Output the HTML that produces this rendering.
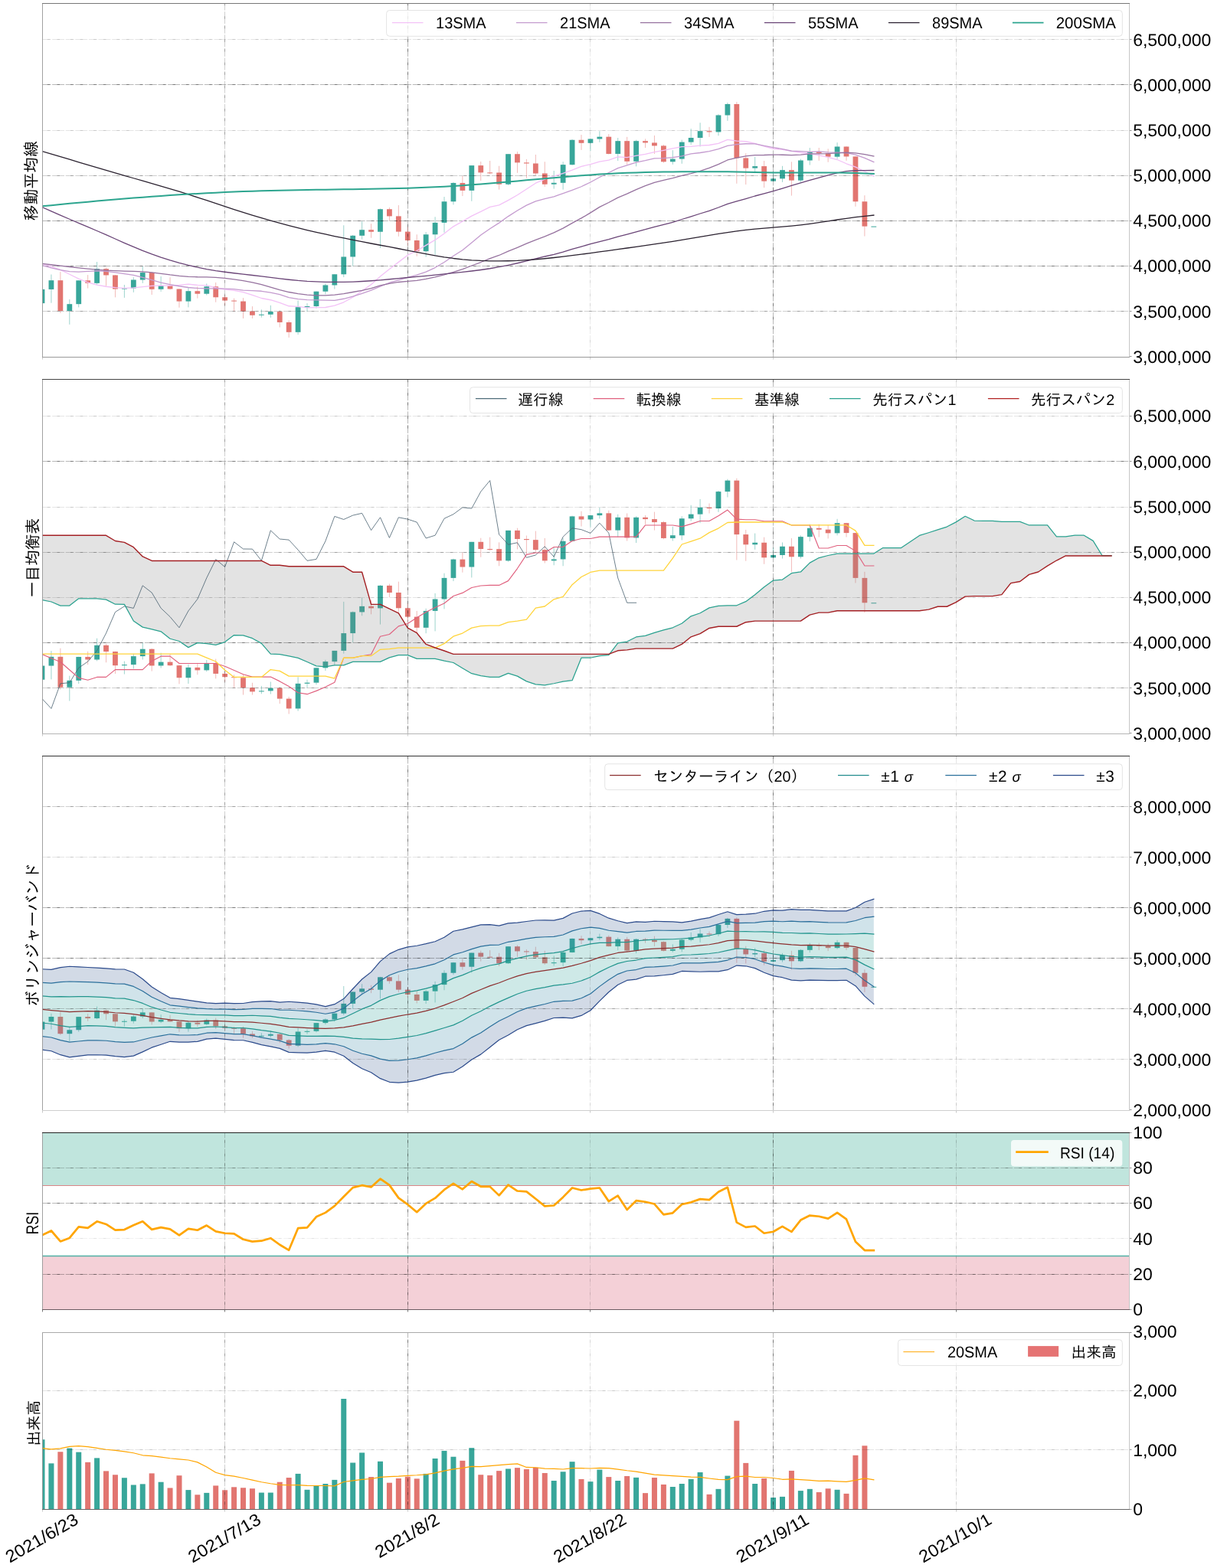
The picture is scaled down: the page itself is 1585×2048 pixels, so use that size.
<!DOCTYPE html><html lang="ja"><head><meta charset="utf-8"><title>移動平均線・一目均衡表・ボリンジャーバンド・RSI・出来高</title>
<style>html,body{margin:0;padding:0;background:#fff}svg{display:block}text{font-family:"Liberation Sans","IPAGothic","Noto Sans CJK JP",sans-serif;fill:#000;text-rendering:geometricPrecision}.grid line{stroke:#000;stroke-width:1;stroke-dasharray:10.9 1.7 15.9 1.7}.gb line{stroke-dasharray:3.5 9.2 3.5 14;stroke-dashoffset:-6.3}.frame{fill:none;stroke:#7f7f7f;stroke-width:1}.tick line{stroke:#999;stroke-width:1}.xt line{stroke:inherit}.xt{stroke:#c8c8c8}.tl text,.xl{font-size:22.5px}.lg{font-size:19.7px}.lgl{font-size:20.8px}.yl{font-size:20.8px}.yl2{font-size:20.4px}.cd line{stroke-width:.7;stroke-opacity:.7}</style></head><body>
<svg width="1585" height="2048" viewBox="0 0 1585 2048" role="img">
<rect width="1585" height="2048" fill="#fff"/>
<defs>
<clipPath id="c1"><rect x="55.5" y="4.5" width="1419" height="462"/></clipPath>
<clipPath id="c2"><rect x="55.5" y="495.5" width="1419" height="463"/></clipPath>
<clipPath id="c3"><rect x="55.5" y="987.5" width="1419" height="463"/></clipPath>
<clipPath id="c4"><rect x="55.5" y="1479.5" width="1419" height="231"/></clipPath>
<clipPath id="c5"><rect x="55.5" y="1740.5" width="1419" height="231"/></clipPath>
</defs>
<g class="cd" clip-path="url(#c1)"><line x1="55" y1="378.04" x2="55" y2="396.09" stroke="#38a69a"/><rect x="51.6" y="377.92" width="6.8" height="18.17" fill="#38a69a"/><line x1="66.93" y1="358.49" x2="66.93" y2="395.71" stroke="#38a69a"/><rect x="63.53" y="366.18" width="6.8" height="11.74" fill="#38a69a"/><line x1="78.86" y1="355.08" x2="78.86" y2="408.96" stroke="#e27570"/><rect x="75.46" y="366.18" width="6.8" height="39.87" fill="#e27570"/><line x1="90.8" y1="391.04" x2="90.8" y2="423.85" stroke="#38a69a"/><rect x="87.4" y="397.16" width="6.8" height="8.9" fill="#38a69a"/><line x1="102.73" y1="366.18" x2="102.73" y2="401.39" stroke="#38a69a"/><rect x="99.33" y="366.31" width="6.8" height="30.85" fill="#38a69a"/><line x1="114.66" y1="359.12" x2="114.66" y2="376.53" stroke="#e27570"/><rect x="111.26" y="366.31" width="6.8" height="3.53" fill="#e27570"/><line x1="126.59" y1="342.08" x2="126.59" y2="371.74" stroke="#38a69a"/><rect x="123.19" y="351.17" width="6.8" height="18.68" fill="#38a69a"/><line x1="138.52" y1="349.27" x2="138.52" y2="373.63" stroke="#e27570"/><rect x="135.12" y="351.17" width="6.8" height="8.26" fill="#e27570"/><line x1="150.46" y1="359.12" x2="150.46" y2="388.39" stroke="#e27570"/><rect x="147.06" y="359.43" width="6.8" height="18.11" fill="#e27570"/><line x1="162.39" y1="371.99" x2="162.39" y2="388.9" stroke="#38a69a"/><rect x="158.99" y="376.47" width="6.8" height="1.07" fill="#38a69a"/><line x1="174.32" y1="362.15" x2="174.32" y2="381.83" stroke="#38a69a"/><rect x="170.92" y="365.49" width="6.8" height="10.98" fill="#38a69a"/><line x1="186.25" y1="348.01" x2="186.25" y2="369.84" stroke="#38a69a"/><rect x="182.85" y="356.09" width="6.8" height="9.4" fill="#38a69a"/><line x1="198.18" y1="355.33" x2="198.18" y2="384.98" stroke="#e27570"/><rect x="194.78" y="356.09" width="6.8" height="21.7" fill="#e27570"/><line x1="210.12" y1="361.01" x2="210.12" y2="380.82" stroke="#38a69a"/><rect x="206.72" y="373" width="6.8" height="4.79" fill="#38a69a"/><line x1="222.05" y1="362.27" x2="222.05" y2="378.3" stroke="#e27570"/><rect x="218.65" y="373" width="6.8" height="4.48" fill="#e27570"/><line x1="233.98" y1="377.16" x2="233.98" y2="401.77" stroke="#e27570"/><rect x="230.58" y="377.48" width="6.8" height="16.09" fill="#e27570"/><line x1="245.91" y1="376.15" x2="245.91" y2="401.39" stroke="#38a69a"/><rect x="242.51" y="380.19" width="6.8" height="13.38" fill="#38a69a"/><line x1="257.84" y1="374.26" x2="257.84" y2="389.65" stroke="#e27570"/><rect x="254.44" y="380.19" width="6.8" height="3.53" fill="#e27570"/><line x1="269.78" y1="370.47" x2="269.78" y2="385.62" stroke="#38a69a"/><rect x="266.38" y="374.26" width="6.8" height="9.46" fill="#38a69a"/><line x1="281.71" y1="368.96" x2="281.71" y2="394.7" stroke="#e27570"/><rect x="278.31" y="374.26" width="6.8" height="14.01" fill="#e27570"/><line x1="293.64" y1="385.36" x2="293.64" y2="398.86" stroke="#e27570"/><rect x="290.24" y="388.26" width="6.8" height="4.29" fill="#e27570"/><line x1="305.57" y1="389.65" x2="305.57" y2="406.81" stroke="#e27570"/><rect x="302.17" y="392.56" width="6.8" height="1.01" fill="#e27570"/><line x1="317.5" y1="389.15" x2="317.5" y2="415.9" stroke="#e27570"/><rect x="314.1" y="393.56" width="6.8" height="13" fill="#e27570"/><line x1="329.44" y1="400.13" x2="329.44" y2="415.9" stroke="#e27570"/><rect x="326.04" y="406.56" width="6.8" height="5.17" fill="#e27570"/><line x1="341.37" y1="404.29" x2="341.37" y2="414.64" stroke="#38a69a"/><rect x="337.97" y="410.73" width="6.8" height="1.01" fill="#38a69a"/><line x1="353.3" y1="398.86" x2="353.3" y2="414.89" stroke="#38a69a"/><rect x="349.9" y="407.07" width="6.8" height="3.66" fill="#38a69a"/><line x1="365.23" y1="405.55" x2="365.23" y2="427.51" stroke="#e27570"/><rect x="361.83" y="407.07" width="6.8" height="13.88" fill="#e27570"/><line x1="377.16" y1="418.42" x2="377.16" y2="440.88" stroke="#e27570"/><rect x="373.76" y="420.95" width="6.8" height="12.87" fill="#e27570"/><line x1="389.1" y1="392.56" x2="389.1" y2="436.97" stroke="#38a69a"/><rect x="385.7" y="401.2" width="6.8" height="32.62" fill="#38a69a"/><line x1="401.03" y1="396.09" x2="401.03" y2="406.81" stroke="#38a69a"/><rect x="397.63" y="400" width="6.8" height="1.2" fill="#38a69a"/><line x1="412.96" y1="380.57" x2="412.96" y2="402.65" stroke="#38a69a"/><rect x="409.56" y="380.69" width="6.8" height="19.31" fill="#38a69a"/><line x1="424.89" y1="370.22" x2="424.89" y2="384.35" stroke="#38a69a"/><rect x="421.49" y="372.44" width="6.8" height="8.25" fill="#38a69a"/><line x1="436.82" y1="358.26" x2="436.82" y2="377.57" stroke="#38a69a"/><rect x="433.42" y="358.26" width="6.8" height="14.18" fill="#38a69a"/><line x1="448.76" y1="294.29" x2="448.76" y2="362.05" stroke="#38a69a"/><rect x="445.36" y="335.43" width="6.8" height="22.84" fill="#38a69a"/><line x1="460.69" y1="306.91" x2="460.69" y2="347.67" stroke="#38a69a"/><rect x="457.29" y="307.79" width="6.8" height="27.63" fill="#38a69a"/><line x1="472.62" y1="289.24" x2="472.62" y2="312.59" stroke="#38a69a"/><rect x="469.22" y="300.22" width="6.8" height="7.57" fill="#38a69a"/><line x1="484.55" y1="292.15" x2="484.55" y2="310.69" stroke="#e27570"/><rect x="481.15" y="300.22" width="6.8" height="2.52" fill="#e27570"/><line x1="496.48" y1="272.46" x2="496.48" y2="323.94" stroke="#38a69a"/><rect x="493.08" y="273.22" width="6.8" height="29.53" fill="#38a69a"/><line x1="508.42" y1="270.95" x2="508.42" y2="288.36" stroke="#e27570"/><rect x="505.02" y="273.22" width="6.8" height="9.15" fill="#e27570"/><line x1="520.35" y1="268.04" x2="520.35" y2="308.8" stroke="#e27570"/><rect x="516.95" y="282.37" width="6.8" height="20.25" fill="#e27570"/><line x1="532.28" y1="296.18" x2="532.28" y2="320.79" stroke="#e27570"/><rect x="528.88" y="302.62" width="6.8" height="11.36" fill="#e27570"/><line x1="544.21" y1="306.28" x2="544.21" y2="334.67" stroke="#e27570"/><rect x="540.81" y="313.97" width="6.8" height="14.2" fill="#e27570"/><line x1="556.14" y1="303.12" x2="556.14" y2="335.55" stroke="#38a69a"/><rect x="552.74" y="306.28" width="6.8" height="21.89" fill="#38a69a"/><line x1="568.08" y1="283.31" x2="568.08" y2="332.78" stroke="#38a69a"/><rect x="564.68" y="290.88" width="6.8" height="15.39" fill="#38a69a"/><line x1="580.01" y1="257.07" x2="580.01" y2="303.75" stroke="#38a69a"/><rect x="576.61" y="263.25" width="6.8" height="27.63" fill="#38a69a"/><line x1="591.94" y1="238.14" x2="591.94" y2="267.41" stroke="#38a69a"/><rect x="588.54" y="238.96" width="6.8" height="24.29" fill="#38a69a"/><line x1="603.87" y1="229.94" x2="603.87" y2="256.06" stroke="#e27570"/><rect x="600.47" y="238.96" width="6.8" height="9.91" fill="#e27570"/><line x1="615.8" y1="216.18" x2="615.8" y2="262.74" stroke="#38a69a"/><rect x="612.4" y="216.14" width="6.8" height="32.73" fill="#38a69a"/><line x1="627.74" y1="211.04" x2="627.74" y2="236.03" stroke="#e27570"/><rect x="624.34" y="216.14" width="6.8" height="9.23" fill="#e27570"/><line x1="639.67" y1="210.03" x2="639.67" y2="227.7" stroke="#e27570"/><rect x="636.27" y="225.36" width="6.8" height="1" fill="#e27570"/><line x1="651.6" y1="216.72" x2="651.6" y2="247.63" stroke="#e27570"/><rect x="648.2" y="225.49" width="6.8" height="15.21" fill="#e27570"/><line x1="663.53" y1="201.2" x2="663.53" y2="241.96" stroke="#38a69a"/><rect x="660.13" y="201.2" width="6.8" height="39.5" fill="#38a69a"/><line x1="675.46" y1="198.04" x2="675.46" y2="225.8" stroke="#e27570"/><rect x="672.06" y="201.2" width="6.8" height="11.17" fill="#e27570"/><line x1="687.4" y1="207.89" x2="687.4" y2="232.74" stroke="#e27570"/><rect x="684" y="212.37" width="6.8" height="1.14" fill="#e27570"/><line x1="699.33" y1="201.96" x2="699.33" y2="228.96" stroke="#e27570"/><rect x="695.93" y="213.5" width="6.8" height="13" fill="#e27570"/><line x1="711.26" y1="211.29" x2="711.26" y2="243.85" stroke="#e27570"/><rect x="707.86" y="226.5" width="6.8" height="14.2" fill="#e27570"/><line x1="723.19" y1="223.03" x2="723.19" y2="246.62" stroke="#38a69a"/><rect x="719.79" y="238.8" width="6.8" height="1.89" fill="#38a69a"/><line x1="735.12" y1="211.29" x2="735.12" y2="247.63" stroke="#38a69a"/><rect x="731.72" y="215.14" width="6.8" height="23.66" fill="#38a69a"/><line x1="747.06" y1="182.02" x2="747.06" y2="215.84" stroke="#38a69a"/><rect x="743.66" y="182.78" width="6.8" height="32.37" fill="#38a69a"/><line x1="758.99" y1="176.09" x2="758.99" y2="195.9" stroke="#e27570"/><rect x="755.59" y="182.78" width="6.8" height="4.04" fill="#e27570"/><line x1="770.92" y1="181.14" x2="770.92" y2="197.16" stroke="#38a69a"/><rect x="767.52" y="181.45" width="6.8" height="5.36" fill="#38a69a"/><line x1="782.85" y1="171.29" x2="782.85" y2="185.8" stroke="#38a69a"/><rect x="779.45" y="178.68" width="6.8" height="2.78" fill="#38a69a"/><line x1="794.78" y1="175.08" x2="794.78" y2="201.58" stroke="#e27570"/><rect x="791.38" y="178.68" width="6.8" height="22.27" fill="#e27570"/><line x1="806.72" y1="180.13" x2="806.72" y2="210.03" stroke="#38a69a"/><rect x="803.32" y="184.16" width="6.8" height="16.78" fill="#38a69a"/><line x1="818.65" y1="178.86" x2="818.65" y2="214.83" stroke="#e27570"/><rect x="815.25" y="184.16" width="6.8" height="26.62" fill="#e27570"/><line x1="830.58" y1="182.65" x2="830.58" y2="217.35" stroke="#38a69a"/><rect x="827.18" y="184.16" width="6.8" height="26.62" fill="#38a69a"/><line x1="842.51" y1="181.39" x2="842.51" y2="193.12" stroke="#e27570"/><rect x="839.11" y="184.16" width="6.8" height="2.27" fill="#e27570"/><line x1="854.44" y1="176.97" x2="854.44" y2="200.95" stroke="#e27570"/><rect x="851.04" y="186.44" width="6.8" height="3.97" fill="#e27570"/><line x1="866.38" y1="188.96" x2="866.38" y2="212.68" stroke="#e27570"/><rect x="862.98" y="190.41" width="6.8" height="20.88" fill="#e27570"/><line x1="878.31" y1="196.15" x2="878.31" y2="214.83" stroke="#38a69a"/><rect x="874.91" y="207.57" width="6.8" height="3.72" fill="#38a69a"/><line x1="890.24" y1="182.65" x2="890.24" y2="213.82" stroke="#38a69a"/><rect x="886.84" y="185.62" width="6.8" height="21.96" fill="#38a69a"/><line x1="902.17" y1="168.14" x2="902.17" y2="188.96" stroke="#38a69a"/><rect x="898.77" y="180" width="6.8" height="5.62" fill="#38a69a"/><line x1="914.1" y1="160.32" x2="914.1" y2="191.48" stroke="#38a69a"/><rect x="910.7" y="171.17" width="6.8" height="8.83" fill="#38a69a"/><line x1="926.04" y1="165.87" x2="926.04" y2="178.86" stroke="#e27570"/><rect x="922.64" y="171.17" width="6.8" height="1.26" fill="#e27570"/><line x1="937.97" y1="149.21" x2="937.97" y2="177.22" stroke="#38a69a"/><rect x="934.57" y="150.47" width="6.8" height="21.96" fill="#38a69a"/><line x1="949.9" y1="134.07" x2="949.9" y2="157.79" stroke="#38a69a"/><rect x="946.5" y="135.96" width="6.8" height="14.51" fill="#38a69a"/><line x1="961.83" y1="133.06" x2="961.83" y2="239.81" stroke="#e27570"/><rect x="958.43" y="135.96" width="6.8" height="70.47" fill="#e27570"/><line x1="973.76" y1="200.32" x2="973.76" y2="241.07" stroke="#e27570"/><rect x="970.36" y="206.44" width="6.8" height="13.19" fill="#e27570"/><line x1="985.7" y1="204.98" x2="985.7" y2="226.18" stroke="#38a69a"/><rect x="982.3" y="217.1" width="6.8" height="2.52" fill="#38a69a"/><line x1="997.63" y1="210.03" x2="997.63" y2="245.11" stroke="#e27570"/><rect x="994.23" y="217.1" width="6.8" height="19.54" fill="#e27570"/><line x1="1009.56" y1="223.38" x2="1009.56" y2="237.26" stroke="#38a69a"/><rect x="1006.16" y="233.34" width="6.8" height="3.3" fill="#38a69a"/><line x1="1021.49" y1="216.81" x2="1021.49" y2="237.89" stroke="#38a69a"/><rect x="1018.09" y="222.11" width="6.8" height="11.23" fill="#38a69a"/><line x1="1033.42" y1="211.39" x2="1033.42" y2="255.55" stroke="#e27570"/><rect x="1030.02" y="222.11" width="6.8" height="13.5" fill="#e27570"/><line x1="1045.36" y1="207.6" x2="1045.36" y2="237.89" stroke="#38a69a"/><rect x="1041.96" y="209.5" width="6.8" height="26.12" fill="#38a69a"/><line x1="1057.29" y1="193.09" x2="1057.29" y2="215.55" stroke="#38a69a"/><rect x="1053.89" y="198.14" width="6.8" height="11.36" fill="#38a69a"/><line x1="1069.22" y1="193.09" x2="1069.22" y2="209.87" stroke="#e27570"/><rect x="1065.82" y="198.14" width="6.8" height="1.89" fill="#e27570"/><line x1="1081.15" y1="194.35" x2="1081.15" y2="211.77" stroke="#e27570"/><rect x="1077.75" y="200.03" width="6.8" height="4.67" fill="#e27570"/><line x1="1093.08" y1="186.15" x2="1093.08" y2="207.6" stroke="#38a69a"/><rect x="1089.68" y="191.51" width="6.8" height="13.19" fill="#38a69a"/><line x1="1105.02" y1="191.2" x2="1105.02" y2="209.87" stroke="#e27570"/><rect x="1101.62" y="191.51" width="6.8" height="12.93" fill="#e27570"/><line x1="1116.95" y1="204.2" x2="1116.95" y2="269.81" stroke="#e27570"/><rect x="1113.55" y="204.45" width="6.8" height="58.8" fill="#e27570"/><line x1="1128.88" y1="255.17" x2="1128.88" y2="308.55" stroke="#e27570"/><rect x="1125.48" y="263.25" width="6.8" height="32.37" fill="#e27570"/><line x1="1140.81" y1="295.62" x2="1140.81" y2="295.62" stroke="#38a69a"/><rect x="1137.41" y="295.62" width="6.8" height="1" fill="#38a69a"/></g>
<g class="grid"><line x1="293.5" y1="466.5" x2="293.5" y2="4.5" stroke-opacity="0.19"/><line x1="532.5" y1="466.5" x2="532.5" y2="4.5" stroke-opacity="0.28"/><line x1="770.5" y1="466.5" x2="770.5" y2="4.5" stroke-opacity="0.075"/><line x1="1009.5" y1="466.5" x2="1009.5" y2="4.5" stroke-opacity="0.28"/><line x1="1248.5" y1="466.5" x2="1248.5" y2="4.5" stroke-opacity="0.1"/><line x1="55.5" y1="406.5" x2="1474.5" y2="406.5" stroke-opacity="0.19"/><line x1="55.5" y1="347.5" x2="1474.5" y2="347.5" stroke-opacity="0.28"/><line x1="55.5" y1="288.5" x2="1474.5" y2="288.5" stroke-opacity="0.28"/><line x1="55.5" y1="229.5" x2="1474.5" y2="229.5" stroke-opacity="0.19"/><line x1="55.5" y1="170.5" x2="1474.5" y2="170.5" stroke-opacity="0.1"/><line x1="55.5" y1="110.5" x2="1474.5" y2="110.5" stroke-opacity="0.28"/><line x1="55.5" y1="51.5" x2="1474.5" y2="51.5" stroke-opacity="0.1"/></g><g class="grid gb"><line x1="293.5" y1="466.5" x2="293.5" y2="4.5" stroke-opacity="0.23"/><line x1="532.5" y1="466.5" x2="532.5" y2="4.5" stroke-opacity="0.34"/><line x1="770.5" y1="466.5" x2="770.5" y2="4.5" stroke-opacity="0.09"/><line x1="1009.5" y1="466.5" x2="1009.5" y2="4.5" stroke-opacity="0.34"/><line x1="1248.5" y1="466.5" x2="1248.5" y2="4.5" stroke-opacity="0.12"/><line x1="55.5" y1="406.5" x2="1474.5" y2="406.5" stroke-opacity="0.23"/><line x1="55.5" y1="347.5" x2="1474.5" y2="347.5" stroke-opacity="0.34"/><line x1="55.5" y1="288.5" x2="1474.5" y2="288.5" stroke-opacity="0.34"/><line x1="55.5" y1="229.5" x2="1474.5" y2="229.5" stroke-opacity="0.23"/><line x1="55.5" y1="170.5" x2="1474.5" y2="170.5" stroke-opacity="0.12"/><line x1="55.5" y1="110.5" x2="1474.5" y2="110.5" stroke-opacity="0.34"/><line x1="55.5" y1="51.5" x2="1474.5" y2="51.5" stroke-opacity="0.12"/></g>
<path d="M55 344.68 L66.93 348.03 L78.86 352.45 L90.8 358.24 L102.73 364.08 L114.66 368.9 L126.59 372.21 L138.52 374.26 L150.46 375.67 L162.39 376.45 L174.32 375.81 L186.25 374.63 L198.18 373.45 L210.12 372.96 L222.05 373.16 L233.98 372.41 L245.91 371.1 L257.84 372.44 L269.78 372.78 L281.71 375.64 L293.64 378.18 L305.57 379.42 L317.5 381.73 L329.44 385.29 L341.37 389.49 L353.3 391.74 L365.23 395.43 L377.16 399.77 L389.1 400.35 L401.03 401.88 L412.96 401.65 L424.89 401.51 L436.82 399.2 L448.76 394.8 L460.69 388.21 L472.62 380.03 L484.55 371.64 L496.48 361.06 L508.42 351.47 L520.35 342.37 L532.28 333.15 L544.21 327.53 L556.14 320.32 L568.08 313.42 L580.01 305.02 L591.94 295.84 L603.87 289.18 L615.8 282.13 L627.74 276.37 L639.67 270.43 L651.6 267.93 L663.53 261.68 L675.46 254.74 L687.4 247.01 L699.33 239.19 L711.26 234.15 L723.19 230.14 L735.12 226.44 L747.06 222.12 L758.99 217.34 L770.92 214.68 L782.85 211.08 L794.78 209.2 L806.72 204.85 L818.65 205.59 L830.58 203.42 L842.51 201.33 L854.44 198.56 L866.38 196.3 L878.31 193.89 L890.24 191.62 L902.17 191.41 L914.1 190.21 L926.04 189.51 L937.97 187.34 L949.9 182.34 L961.83 184.06 L973.76 184.74 L985.7 187.27 L997.63 191.13 L1009.56 194.43 L1021.49 195.27 L1033.42 197.42 L1045.36 199.26 L1057.29 200.66 L1069.22 202.88 L1081.15 205.36 L1093.08 208.52 L1105.02 213.78 L1116.95 218.15 L1128.88 224 L1140.81 230.04" fill="none" stroke="#f3c2f7" stroke-width="1.3" clip-path="url(#c1)" stroke-linejoin="round" stroke-linecap="square" />
<path d="M55 346.58 L66.93 349.82 L78.86 352.7 L90.8 354.61 L102.73 355.08 L114.66 354.42 L126.59 353.79 L138.52 354.27 L150.46 355.79 L162.39 357.55 L174.32 359.47 L186.25 362.35 L198.18 365.68 L210.12 369.03 L222.05 371.54 L233.98 373.75 L245.91 375.5 L257.84 376.46 L269.78 376.86 L281.71 376.87 L293.64 377.16 L305.57 377.63 L317.5 379.09 L329.44 379.63 L341.37 380.27 L353.3 382.21 L365.23 384.65 L377.16 388.58 L389.1 390.57 L401.03 391.64 L412.96 391.84 L424.89 392.17 L436.82 392.28 L448.76 390.26 L460.69 387.16 L472.62 383.48 L484.55 379.15 L496.48 374.06 L508.42 369.23 L520.35 365.82 L532.28 362.28 L544.21 359.22 L556.14 355.06 L568.08 349.55 L580.01 342.48 L591.94 334.3 L603.87 326.77 L615.8 317.02 L627.74 307.09 L639.67 298.72 L651.6 291.14 L663.53 282.59 L675.46 274.97 L687.4 268.07 L699.33 262.88 L711.26 259.69 L723.19 256.77 L735.12 252.59 L747.06 248.29 L758.99 243.74 L770.92 237.97 L782.85 231.52 L794.78 225.47 L806.72 219.65 L818.65 215.84 L830.58 212.07 L842.51 209.57 L854.44 206.79 L866.38 206.56 L878.31 205.71 L890.24 203.81 L902.17 200.92 L914.1 199.49 L926.04 197.59 L937.97 194.59 L949.9 190.27 L961.83 188.64 L973.76 187.73 L985.7 187.82 L997.63 190.39 L1009.56 192.6 L1021.49 194.54 L1033.42 197.25 L1045.36 197.66 L1057.29 198.32 L1069.22 197.81 L1081.15 198.79 L1093.08 199.03 L1105.02 199.7 L1116.95 202.17 L1128.88 206.37 L1140.81 211.61" fill="none" stroke="#c49bcf" stroke-width="1.3" clip-path="url(#c1)" stroke-linejoin="round" stroke-linecap="square" />
<path d="M55 344.3 L66.93 345.77 L78.86 347.18 L90.8 348.52 L102.73 349.8 L114.66 351.07 L126.59 352.16 L138.52 353.05 L150.46 353.62 L162.39 354.05 L174.32 354.39 L186.25 354.86 L198.18 355.84 L210.12 357.28 L222.05 358.96 L233.98 360.3 L245.91 361.3 L257.84 361.76 L269.78 361.95 L281.71 362.34 L293.64 363.34 L305.57 364.89 L317.5 366.65 L329.44 368.81 L341.37 371.71 L353.3 375.18 L365.23 378.56 L377.16 381.51 L389.1 383.55 L401.03 385.08 L412.96 385.84 L424.89 385.89 L436.82 385.18 L448.76 383.63 L460.69 381.51 L472.62 379.34 L484.55 376.57 L496.48 372.93 L508.42 370.46 L520.35 368.48 L532.28 367.39 L544.21 366.47 L556.14 364.37 L568.08 361.86 L580.01 358.85 L591.94 355.4 L603.87 351.61 L615.8 347 L627.74 342.52 L639.67 337.58 L651.6 333.48 L663.53 328.11 L675.46 323.35 L687.4 318.21 L699.33 313.32 L711.26 308.83 L723.19 303.89 L735.12 298.11 L747.06 291.41 L758.99 284.93 L770.92 277.89 L782.85 270.38 L794.78 264.49 L806.72 258.14 L818.65 253.15 L830.58 247.61 L842.51 242.55 L854.44 238.29 L866.38 235.45 L878.31 232.73 L890.24 229.28 L902.17 226.54 L914.1 223.27 L926.04 219.44 L937.97 214.63 L949.9 208.98 L961.83 206.04 L973.76 203.95 L985.7 202.59 L997.63 202.52 L1009.56 202.06 L1021.49 202.24 L1033.42 202.54 L1045.36 202.07 L1057.29 200.82 L1069.22 200.78 L1081.15 200.56 L1093.08 199.91 L1105.02 199.26 L1116.95 199.93 L1128.88 201.6 L1140.81 203.97" fill="none" stroke="#96729f" stroke-width="1.3" clip-path="url(#c1)" stroke-linejoin="round" stroke-linecap="square" />
<path d="M55 270.48 L66.93 275.83 L78.86 281.1 L90.8 286.26 L102.73 291.33 L114.66 296.38 L126.59 301.49 L138.52 306.7 L150.46 312.01 L162.39 317.31 L174.32 322.46 L186.25 327.35 L198.18 331.9 L210.12 336.07 L222.05 339.87 L233.98 343.34 L245.91 346.45 L257.84 349.2 L269.78 351.55 L281.71 353.56 L293.64 355.24 L305.57 356.73 L317.5 358.13 L329.44 359.51 L341.37 360.95 L353.3 362.44 L365.23 363.9 L377.16 365.25 L389.1 366.43 L401.03 367.33 L412.96 367.96 L424.89 368.34 L436.82 368.47 L448.76 368.37 L460.69 368.05 L472.62 367.51 L484.55 366.74 L496.48 365.79 L508.42 364.74 L520.35 363.64 L532.28 362.52 L544.21 361.42 L556.14 360.31 L568.08 359.13 L580.01 357.92 L591.94 356.67 L603.87 355.38 L615.8 354.01 L627.74 352.5 L639.67 350.76 L651.6 348.73 L663.53 346.37 L675.46 343.75 L687.4 340.94 L699.33 338 L711.26 334.99 L723.19 332.43 L735.12 329.24 L747.06 325.34 L758.99 322.07 L770.92 318.65 L782.85 315.51 L794.78 312.63 L806.72 309.12 L818.65 306.1 L830.58 302.81 L842.51 299.72 L854.44 296.31 L866.38 293.37 L878.31 290.29 L890.24 286.5 L902.17 282.86 L914.1 279 L926.04 275.33 L937.97 271.01 L949.9 266.34 L961.83 262.94 L973.76 259.54 L985.7 256 L997.63 252.84 L1009.56 249.68 L1021.49 246.06 L1033.42 242.46 L1045.36 238.97 L1057.29 235.3 L1069.22 232.02 L1081.15 228.97 L1093.08 225.94 L1105.02 223.56 L1116.95 222.75 L1128.88 222.66 L1140.81 222.53" fill="none" stroke="#6a4577" stroke-width="1.3" clip-path="url(#c1)" stroke-linejoin="round" stroke-linecap="square" />
<path d="M55 197.61 L66.93 201.15 L78.86 204.7 L90.8 208.24 L102.73 211.77 L114.66 215.29 L126.59 218.8 L138.52 222.31 L150.46 225.8 L162.39 229.28 L174.32 232.75 L186.25 236.19 L198.18 239.62 L210.12 243.08 L222.05 246.59 L233.98 250.2 L245.91 253.93 L257.84 257.79 L269.78 261.74 L281.71 265.72 L293.64 269.68 L305.57 273.57 L317.5 277.36 L329.44 281.04 L341.37 284.63 L353.3 288.09 L365.23 291.44 L377.16 294.65 L389.1 297.71 L401.03 300.61 L412.96 303.36 L424.89 305.99 L436.82 308.53 L448.76 310.98 L460.69 313.38 L472.62 315.71 L484.55 318 L496.48 320.24 L508.42 322.48 L520.35 324.75 L532.28 327.06 L544.21 329.39 L556.14 331.69 L568.08 333.87 L580.01 335.82 L591.94 337.48 L603.87 338.81 L615.8 339.79 L627.74 340.45 L639.67 340.83 L651.6 340.94 L663.53 340.77 L675.46 340.37 L687.4 339.7 L699.33 338.82 L711.26 337.74 L723.19 336.51 L735.12 335.14 L747.06 333.68 L758.99 332.15 L770.92 330.56 L782.85 328.94 L794.78 327.31 L806.72 325.66 L818.65 324.01 L830.58 322.34 L842.51 320.65 L854.44 318.91 L866.38 317.13 L878.31 315.3 L890.24 313.42 L902.17 311.46 L914.1 309.47 L926.04 307.48 L937.97 305.48 L949.9 303.57 L961.83 301.88 L973.76 300.39 L985.7 299.12 L997.63 298.06 L1009.56 297.12 L1021.49 296.16 L1033.42 295.1 L1045.36 293.84 L1057.29 292.35 L1069.22 290.65 L1081.15 288.84 L1093.08 287.01 L1105.02 285.27 L1116.95 283.72 L1128.88 282.35 L1140.81 281.05" fill="none" stroke="#2b2230" stroke-width="1.3" clip-path="url(#c1)" stroke-linejoin="round" stroke-linecap="square" />
<path d="M55 269.34 L66.93 268.16 L78.86 267 L90.8 265.85 L102.73 264.72 L114.66 263.63 L126.59 262.57 L138.52 261.53 L150.46 260.52 L162.39 259.54 L174.32 258.59 L186.25 257.67 L198.18 256.77 L210.12 255.92 L222.05 255.1 L233.98 254.33 L245.91 253.59 L257.84 252.91 L269.78 252.26 L281.71 251.66 L293.64 251.09 L305.57 250.57 L317.5 250.1 L329.44 249.66 L341.37 249.28 L353.3 248.95 L365.23 248.67 L377.16 248.43 L389.1 248.22 L401.03 248.04 L412.96 247.87 L424.89 247.7 L436.82 247.54 L448.76 247.36 L460.69 247.18 L472.62 246.99 L484.55 246.78 L496.48 246.55 L508.42 246.3 L520.35 246.01 L532.28 245.68 L544.21 245.29 L556.14 244.82 L568.08 244.29 L580.01 243.67 L591.94 242.95 L603.87 242.17 L615.8 241.31 L627.74 240.39 L639.67 239.43 L651.6 238.43 L663.53 237.41 L675.46 236.38 L687.4 235.34 L699.33 234.29 L711.26 233.25 L723.19 232.21 L735.12 231.19 L747.06 230.2 L758.99 229.26 L770.92 228.39 L782.85 227.62 L794.78 226.94 L806.72 226.35 L818.65 225.85 L830.58 225.44 L842.51 225.1 L854.44 224.83 L866.38 224.6 L878.31 224.44 L890.24 224.31 L902.17 224.22 L914.1 224.15 L926.04 224.13 L937.97 224.16 L949.9 224.26 L961.83 224.43 L973.76 224.68 L985.7 224.95 L997.63 225.21 L1009.56 225.42 L1021.49 225.55 L1033.42 225.61 L1045.36 225.6 L1057.29 225.55 L1069.22 225.5 L1081.15 225.5 L1093.08 225.57 L1105.02 225.74 L1116.95 226.04 L1128.88 226.45 L1140.81 226.91" fill="none" stroke="#2da58f" stroke-width="2.0" clip-path="url(#c1)" stroke-linejoin="round" stroke-linecap="square" />
<g stroke-width="1" fill="none"><line x1="55.5" y1="4.5" x2="55.5" y2="466.5" stroke="#909090" stroke-width=".85"/><line x1="1474.5" y1="4.5" x2="1474.5" y2="466.5" stroke="#c6c6c6"/><line x1="55" y1="4.5" x2="1475" y2="4.5" stroke="#777"/><line x1="55" y1="466.5" x2="1475" y2="466.5" stroke="#999"/></g>
<g class="tick xt"><line x1="55.5" y1="467" x2="55.5" y2="469.5"/><line x1="293.5" y1="467" x2="293.5" y2="469.5"/><line x1="532.5" y1="467" x2="532.5" y2="469.5"/><line x1="770.5" y1="467" x2="770.5" y2="469.5"/><line x1="1009.5" y1="467" x2="1009.5" y2="469.5"/><line x1="1248.5" y1="467" x2="1248.5" y2="469.5"/></g>
<g class="tick"><line x1="1475" y1="465.5" x2="1477.5" y2="465.5"/><line x1="1475" y1="406.5" x2="1477.5" y2="406.5"/><line x1="1475" y1="347.5" x2="1477.5" y2="347.5"/><line x1="1475" y1="288.5" x2="1477.5" y2="288.5"/><line x1="1475" y1="229.5" x2="1477.5" y2="229.5"/><line x1="1475" y1="170.5" x2="1477.5" y2="170.5"/><line x1="1475" y1="110.5" x2="1477.5" y2="110.5"/><line x1="1475" y1="51.5" x2="1477.5" y2="51.5"/></g>
<g class="tl"><text x="1479.2" y="473.77" textLength="102.05" lengthAdjust="spacingAndGlyphs">3,000,000</text><text x="1479.2" y="414.6" textLength="102.05" lengthAdjust="spacingAndGlyphs">3,500,000</text><text x="1479.2" y="355.44" textLength="102.05" lengthAdjust="spacingAndGlyphs">4,000,000</text><text x="1479.2" y="296.27" textLength="102.05" lengthAdjust="spacingAndGlyphs">4,500,000</text><text x="1479.2" y="237.11" textLength="102.05" lengthAdjust="spacingAndGlyphs">5,000,000</text><text x="1479.2" y="177.94" textLength="102.05" lengthAdjust="spacingAndGlyphs">5,500,000</text><text x="1479.2" y="118.78" textLength="102.05" lengthAdjust="spacingAndGlyphs">6,000,000</text><text x="1479.2" y="59.61" textLength="102.05" lengthAdjust="spacingAndGlyphs">6,500,000</text></g>
<text font-size="20.8" transform="translate(48.3 236.2) rotate(-90)" text-anchor="middle" >移動平均線</text>
<rect x="504.6" y="13.5" width="960.7" height="33.8" rx="4" ry="4" fill="#fff" fill-opacity="0.8" stroke="#e4e4e4" stroke-width="1"/>
<line x1="511.9" y1="29.7" x2="552.5" y2="29.7" stroke="#f3c2f7" stroke-width="1.2"/>
<text x="569.1" y="37.3" class="lg lgl" textLength="65.4" lengthAdjust="spacingAndGlyphs">13SMA</text>
<line x1="673.9" y1="29.7" x2="714.5" y2="29.7" stroke="#c49bcf" stroke-width="1.2"/>
<text x="731.1" y="37.3" class="lg lgl" textLength="65.4" lengthAdjust="spacingAndGlyphs">21SMA</text>
<line x1="835.9" y1="29.7" x2="876.5" y2="29.7" stroke="#96729f" stroke-width="1.2"/>
<text x="893.1" y="37.3" class="lg lgl" textLength="65.4" lengthAdjust="spacingAndGlyphs">34SMA</text>
<line x1="997.9" y1="29.7" x2="1038.5" y2="29.7" stroke="#6a4577" stroke-width="1.2"/>
<text x="1055.1" y="37.3" class="lg lgl" textLength="65.4" lengthAdjust="spacingAndGlyphs">55SMA</text>
<line x1="1159.9" y1="29.7" x2="1200.5" y2="29.7" stroke="#2b2230" stroke-width="1.2"/>
<text x="1217.1" y="37.3" class="lg lgl" textLength="65.4" lengthAdjust="spacingAndGlyphs">89SMA</text>
<line x1="1321.9" y1="29.7" x2="1362.5" y2="29.7" stroke="#2da58f" stroke-width="1.8"/>
<text x="1378.7" y="37.3" class="lg lgl" textLength="78.3" lengthAdjust="spacingAndGlyphs">200SMA</text>
<g class="cd" clip-path="url(#c2)"><line x1="55" y1="869.69" x2="55" y2="887.74" stroke="#38a69a"/><rect x="51.6" y="869.57" width="6.8" height="18.17" fill="#38a69a"/><line x1="66.93" y1="850.14" x2="66.93" y2="887.36" stroke="#38a69a"/><rect x="63.53" y="857.83" width="6.8" height="11.74" fill="#38a69a"/><line x1="78.86" y1="846.73" x2="78.86" y2="900.61" stroke="#e27570"/><rect x="75.46" y="857.83" width="6.8" height="39.87" fill="#e27570"/><line x1="90.8" y1="882.69" x2="90.8" y2="915.5" stroke="#38a69a"/><rect x="87.4" y="888.81" width="6.8" height="8.9" fill="#38a69a"/><line x1="102.73" y1="857.83" x2="102.73" y2="893.04" stroke="#38a69a"/><rect x="99.33" y="857.96" width="6.8" height="30.85" fill="#38a69a"/><line x1="114.66" y1="850.77" x2="114.66" y2="868.18" stroke="#e27570"/><rect x="111.26" y="857.96" width="6.8" height="3.53" fill="#e27570"/><line x1="126.59" y1="833.73" x2="126.59" y2="863.39" stroke="#38a69a"/><rect x="123.19" y="842.82" width="6.8" height="18.68" fill="#38a69a"/><line x1="138.52" y1="840.92" x2="138.52" y2="865.28" stroke="#e27570"/><rect x="135.12" y="842.82" width="6.8" height="8.26" fill="#e27570"/><line x1="150.46" y1="850.77" x2="150.46" y2="880.04" stroke="#e27570"/><rect x="147.06" y="851.08" width="6.8" height="18.11" fill="#e27570"/><line x1="162.39" y1="863.64" x2="162.39" y2="880.55" stroke="#38a69a"/><rect x="158.99" y="868.12" width="6.8" height="1.07" fill="#38a69a"/><line x1="174.32" y1="853.8" x2="174.32" y2="873.48" stroke="#38a69a"/><rect x="170.92" y="857.14" width="6.8" height="10.98" fill="#38a69a"/><line x1="186.25" y1="839.66" x2="186.25" y2="861.49" stroke="#38a69a"/><rect x="182.85" y="847.74" width="6.8" height="9.4" fill="#38a69a"/><line x1="198.18" y1="846.98" x2="198.18" y2="876.63" stroke="#e27570"/><rect x="194.78" y="847.74" width="6.8" height="21.7" fill="#e27570"/><line x1="210.12" y1="852.66" x2="210.12" y2="872.47" stroke="#38a69a"/><rect x="206.72" y="864.65" width="6.8" height="4.79" fill="#38a69a"/><line x1="222.05" y1="853.92" x2="222.05" y2="869.95" stroke="#e27570"/><rect x="218.65" y="864.65" width="6.8" height="4.48" fill="#e27570"/><line x1="233.98" y1="868.81" x2="233.98" y2="893.42" stroke="#e27570"/><rect x="230.58" y="869.13" width="6.8" height="16.09" fill="#e27570"/><line x1="245.91" y1="867.8" x2="245.91" y2="893.04" stroke="#38a69a"/><rect x="242.51" y="871.84" width="6.8" height="13.38" fill="#38a69a"/><line x1="257.84" y1="865.91" x2="257.84" y2="881.3" stroke="#e27570"/><rect x="254.44" y="871.84" width="6.8" height="3.53" fill="#e27570"/><line x1="269.78" y1="862.12" x2="269.78" y2="877.27" stroke="#38a69a"/><rect x="266.38" y="865.91" width="6.8" height="9.46" fill="#38a69a"/><line x1="281.71" y1="860.61" x2="281.71" y2="886.35" stroke="#e27570"/><rect x="278.31" y="865.91" width="6.8" height="14.01" fill="#e27570"/><line x1="293.64" y1="877.01" x2="293.64" y2="890.51" stroke="#e27570"/><rect x="290.24" y="879.91" width="6.8" height="4.29" fill="#e27570"/><line x1="305.57" y1="881.3" x2="305.57" y2="898.46" stroke="#e27570"/><rect x="302.17" y="884.21" width="6.8" height="1.01" fill="#e27570"/><line x1="317.5" y1="880.8" x2="317.5" y2="907.55" stroke="#e27570"/><rect x="314.1" y="885.21" width="6.8" height="13" fill="#e27570"/><line x1="329.44" y1="891.78" x2="329.44" y2="907.55" stroke="#e27570"/><rect x="326.04" y="898.21" width="6.8" height="5.17" fill="#e27570"/><line x1="341.37" y1="895.94" x2="341.37" y2="906.29" stroke="#38a69a"/><rect x="337.97" y="902.38" width="6.8" height="1.01" fill="#38a69a"/><line x1="353.3" y1="890.51" x2="353.3" y2="906.54" stroke="#38a69a"/><rect x="349.9" y="898.72" width="6.8" height="3.66" fill="#38a69a"/><line x1="365.23" y1="897.2" x2="365.23" y2="919.16" stroke="#e27570"/><rect x="361.83" y="898.72" width="6.8" height="13.88" fill="#e27570"/><line x1="377.16" y1="910.07" x2="377.16" y2="932.53" stroke="#e27570"/><rect x="373.76" y="912.6" width="6.8" height="12.87" fill="#e27570"/><line x1="389.1" y1="884.21" x2="389.1" y2="928.62" stroke="#38a69a"/><rect x="385.7" y="892.85" width="6.8" height="32.62" fill="#38a69a"/><line x1="401.03" y1="887.74" x2="401.03" y2="898.46" stroke="#38a69a"/><rect x="397.63" y="891.65" width="6.8" height="1.2" fill="#38a69a"/><line x1="412.96" y1="872.22" x2="412.96" y2="894.3" stroke="#38a69a"/><rect x="409.56" y="872.34" width="6.8" height="19.31" fill="#38a69a"/><line x1="424.89" y1="861.87" x2="424.89" y2="876" stroke="#38a69a"/><rect x="421.49" y="864.09" width="6.8" height="8.25" fill="#38a69a"/><line x1="436.82" y1="849.91" x2="436.82" y2="869.22" stroke="#38a69a"/><rect x="433.42" y="849.91" width="6.8" height="14.18" fill="#38a69a"/><line x1="448.76" y1="785.94" x2="448.76" y2="853.7" stroke="#38a69a"/><rect x="445.36" y="827.08" width="6.8" height="22.84" fill="#38a69a"/><line x1="460.69" y1="798.56" x2="460.69" y2="839.32" stroke="#38a69a"/><rect x="457.29" y="799.44" width="6.8" height="27.63" fill="#38a69a"/><line x1="472.62" y1="780.89" x2="472.62" y2="804.24" stroke="#38a69a"/><rect x="469.22" y="791.87" width="6.8" height="7.57" fill="#38a69a"/><line x1="484.55" y1="783.8" x2="484.55" y2="802.34" stroke="#e27570"/><rect x="481.15" y="791.87" width="6.8" height="2.52" fill="#e27570"/><line x1="496.48" y1="764.11" x2="496.48" y2="815.59" stroke="#38a69a"/><rect x="493.08" y="764.87" width="6.8" height="29.53" fill="#38a69a"/><line x1="508.42" y1="762.6" x2="508.42" y2="780.01" stroke="#e27570"/><rect x="505.02" y="764.87" width="6.8" height="9.15" fill="#e27570"/><line x1="520.35" y1="759.69" x2="520.35" y2="800.45" stroke="#e27570"/><rect x="516.95" y="774.02" width="6.8" height="20.25" fill="#e27570"/><line x1="532.28" y1="787.83" x2="532.28" y2="812.44" stroke="#e27570"/><rect x="528.88" y="794.27" width="6.8" height="11.36" fill="#e27570"/><line x1="544.21" y1="797.93" x2="544.21" y2="826.32" stroke="#e27570"/><rect x="540.81" y="805.62" width="6.8" height="14.2" fill="#e27570"/><line x1="556.14" y1="794.77" x2="556.14" y2="827.2" stroke="#38a69a"/><rect x="552.74" y="797.93" width="6.8" height="21.89" fill="#38a69a"/><line x1="568.08" y1="774.96" x2="568.08" y2="824.43" stroke="#38a69a"/><rect x="564.68" y="782.53" width="6.8" height="15.39" fill="#38a69a"/><line x1="580.01" y1="748.72" x2="580.01" y2="795.4" stroke="#38a69a"/><rect x="576.61" y="754.9" width="6.8" height="27.63" fill="#38a69a"/><line x1="591.94" y1="729.79" x2="591.94" y2="759.06" stroke="#38a69a"/><rect x="588.54" y="730.61" width="6.8" height="24.29" fill="#38a69a"/><line x1="603.87" y1="721.59" x2="603.87" y2="747.71" stroke="#e27570"/><rect x="600.47" y="730.61" width="6.8" height="9.91" fill="#e27570"/><line x1="615.8" y1="707.83" x2="615.8" y2="754.39" stroke="#38a69a"/><rect x="612.4" y="707.79" width="6.8" height="32.73" fill="#38a69a"/><line x1="627.74" y1="702.69" x2="627.74" y2="727.68" stroke="#e27570"/><rect x="624.34" y="707.79" width="6.8" height="9.23" fill="#e27570"/><line x1="639.67" y1="701.68" x2="639.67" y2="719.35" stroke="#e27570"/><rect x="636.27" y="717.01" width="6.8" height="1" fill="#e27570"/><line x1="651.6" y1="708.37" x2="651.6" y2="739.28" stroke="#e27570"/><rect x="648.2" y="717.14" width="6.8" height="15.21" fill="#e27570"/><line x1="663.53" y1="692.85" x2="663.53" y2="733.61" stroke="#38a69a"/><rect x="660.13" y="692.85" width="6.8" height="39.5" fill="#38a69a"/><line x1="675.46" y1="689.69" x2="675.46" y2="717.45" stroke="#e27570"/><rect x="672.06" y="692.85" width="6.8" height="11.17" fill="#e27570"/><line x1="687.4" y1="699.54" x2="687.4" y2="724.39" stroke="#e27570"/><rect x="684" y="704.02" width="6.8" height="1.14" fill="#e27570"/><line x1="699.33" y1="693.61" x2="699.33" y2="720.61" stroke="#e27570"/><rect x="695.93" y="705.15" width="6.8" height="13" fill="#e27570"/><line x1="711.26" y1="702.94" x2="711.26" y2="735.5" stroke="#e27570"/><rect x="707.86" y="718.15" width="6.8" height="14.2" fill="#e27570"/><line x1="723.19" y1="714.68" x2="723.19" y2="738.27" stroke="#38a69a"/><rect x="719.79" y="730.45" width="6.8" height="1.89" fill="#38a69a"/><line x1="735.12" y1="702.94" x2="735.12" y2="739.28" stroke="#38a69a"/><rect x="731.72" y="706.79" width="6.8" height="23.66" fill="#38a69a"/><line x1="747.06" y1="673.67" x2="747.06" y2="707.49" stroke="#38a69a"/><rect x="743.66" y="674.43" width="6.8" height="32.37" fill="#38a69a"/><line x1="758.99" y1="667.74" x2="758.99" y2="687.55" stroke="#e27570"/><rect x="755.59" y="674.43" width="6.8" height="4.04" fill="#e27570"/><line x1="770.92" y1="672.79" x2="770.92" y2="688.81" stroke="#38a69a"/><rect x="767.52" y="673.1" width="6.8" height="5.36" fill="#38a69a"/><line x1="782.85" y1="662.94" x2="782.85" y2="677.45" stroke="#38a69a"/><rect x="779.45" y="670.33" width="6.8" height="2.78" fill="#38a69a"/><line x1="794.78" y1="666.73" x2="794.78" y2="693.23" stroke="#e27570"/><rect x="791.38" y="670.33" width="6.8" height="22.27" fill="#e27570"/><line x1="806.72" y1="671.78" x2="806.72" y2="701.68" stroke="#38a69a"/><rect x="803.32" y="675.81" width="6.8" height="16.78" fill="#38a69a"/><line x1="818.65" y1="670.51" x2="818.65" y2="706.48" stroke="#e27570"/><rect x="815.25" y="675.81" width="6.8" height="26.62" fill="#e27570"/><line x1="830.58" y1="674.3" x2="830.58" y2="709" stroke="#38a69a"/><rect x="827.18" y="675.81" width="6.8" height="26.62" fill="#38a69a"/><line x1="842.51" y1="673.04" x2="842.51" y2="684.77" stroke="#e27570"/><rect x="839.11" y="675.81" width="6.8" height="2.27" fill="#e27570"/><line x1="854.44" y1="668.62" x2="854.44" y2="692.6" stroke="#e27570"/><rect x="851.04" y="678.09" width="6.8" height="3.97" fill="#e27570"/><line x1="866.38" y1="680.61" x2="866.38" y2="704.33" stroke="#e27570"/><rect x="862.98" y="682.06" width="6.8" height="20.88" fill="#e27570"/><line x1="878.31" y1="687.8" x2="878.31" y2="706.48" stroke="#38a69a"/><rect x="874.91" y="699.22" width="6.8" height="3.72" fill="#38a69a"/><line x1="890.24" y1="674.3" x2="890.24" y2="705.47" stroke="#38a69a"/><rect x="886.84" y="677.27" width="6.8" height="21.96" fill="#38a69a"/><line x1="902.17" y1="659.79" x2="902.17" y2="680.61" stroke="#38a69a"/><rect x="898.77" y="671.65" width="6.8" height="5.62" fill="#38a69a"/><line x1="914.1" y1="651.97" x2="914.1" y2="683.13" stroke="#38a69a"/><rect x="910.7" y="662.82" width="6.8" height="8.83" fill="#38a69a"/><line x1="926.04" y1="657.52" x2="926.04" y2="670.51" stroke="#e27570"/><rect x="922.64" y="662.82" width="6.8" height="1.26" fill="#e27570"/><line x1="937.97" y1="640.86" x2="937.97" y2="668.87" stroke="#38a69a"/><rect x="934.57" y="642.12" width="6.8" height="21.96" fill="#38a69a"/><line x1="949.9" y1="625.72" x2="949.9" y2="649.44" stroke="#38a69a"/><rect x="946.5" y="627.61" width="6.8" height="14.51" fill="#38a69a"/><line x1="961.83" y1="624.71" x2="961.83" y2="731.46" stroke="#e27570"/><rect x="958.43" y="627.61" width="6.8" height="70.47" fill="#e27570"/><line x1="973.76" y1="691.97" x2="973.76" y2="732.72" stroke="#e27570"/><rect x="970.36" y="698.09" width="6.8" height="13.19" fill="#e27570"/><line x1="985.7" y1="696.63" x2="985.7" y2="717.83" stroke="#38a69a"/><rect x="982.3" y="708.75" width="6.8" height="2.52" fill="#38a69a"/><line x1="997.63" y1="701.68" x2="997.63" y2="736.76" stroke="#e27570"/><rect x="994.23" y="708.75" width="6.8" height="19.54" fill="#e27570"/><line x1="1009.56" y1="715.03" x2="1009.56" y2="728.91" stroke="#38a69a"/><rect x="1006.16" y="724.99" width="6.8" height="3.3" fill="#38a69a"/><line x1="1021.49" y1="708.46" x2="1021.49" y2="729.54" stroke="#38a69a"/><rect x="1018.09" y="713.76" width="6.8" height="11.23" fill="#38a69a"/><line x1="1033.42" y1="703.04" x2="1033.42" y2="747.2" stroke="#e27570"/><rect x="1030.02" y="713.76" width="6.8" height="13.5" fill="#e27570"/><line x1="1045.36" y1="699.25" x2="1045.36" y2="729.54" stroke="#38a69a"/><rect x="1041.96" y="701.15" width="6.8" height="26.12" fill="#38a69a"/><line x1="1057.29" y1="684.74" x2="1057.29" y2="707.2" stroke="#38a69a"/><rect x="1053.89" y="689.79" width="6.8" height="11.36" fill="#38a69a"/><line x1="1069.22" y1="684.74" x2="1069.22" y2="701.52" stroke="#e27570"/><rect x="1065.82" y="689.79" width="6.8" height="1.89" fill="#e27570"/><line x1="1081.15" y1="686" x2="1081.15" y2="703.42" stroke="#e27570"/><rect x="1077.75" y="691.68" width="6.8" height="4.67" fill="#e27570"/><line x1="1093.08" y1="677.8" x2="1093.08" y2="699.25" stroke="#38a69a"/><rect x="1089.68" y="683.16" width="6.8" height="13.19" fill="#38a69a"/><line x1="1105.02" y1="682.85" x2="1105.02" y2="701.52" stroke="#e27570"/><rect x="1101.62" y="683.16" width="6.8" height="12.93" fill="#e27570"/><line x1="1116.95" y1="695.85" x2="1116.95" y2="761.46" stroke="#e27570"/><rect x="1113.55" y="696.1" width="6.8" height="58.8" fill="#e27570"/><line x1="1128.88" y1="746.82" x2="1128.88" y2="800.2" stroke="#e27570"/><rect x="1125.48" y="754.9" width="6.8" height="32.37" fill="#e27570"/><line x1="1140.81" y1="787.27" x2="1140.81" y2="787.27" stroke="#38a69a"/><rect x="1137.41" y="787.27" width="6.8" height="1" fill="#38a69a"/></g>
<path d="M55 783.54 L66.93 786 L78.86 791.11 L90.8 791.11 L102.73 781.84 L114.66 781.84 L126.59 781.84 L138.52 783.16 L150.46 789.22 L162.39 789.41 L174.32 810.99 L186.25 819.13 L198.18 821.96 L210.12 824.8 L222.05 834.27 L233.98 837.49 L245.91 845.63 L257.84 839.57 L269.78 840.51 L281.71 842.41 L293.64 838.62 L305.57 829.54 L317.5 829.91 L329.44 833.7 L341.37 840.33 L353.3 854.14 L365.23 854.52 L377.16 856.98 L389.1 859.44 L401.03 864.55 L412.96 869.85 L424.89 870.8 L436.82 868.91 L448.76 868.91 L460.69 864.36 L472.62 864.36 L484.55 864.36 L496.48 864.36 L508.42 858.88 L520.35 855.66 L532.28 855.66 L544.21 860.39 L556.14 860.39 L568.08 860.39 L580.01 863.23 L591.94 865.5 L603.87 872.69 L615.8 879.7 L627.74 882.54 L639.67 884.43 L651.6 884.43 L663.53 879.35 L675.46 883.16 L687.4 889.85 L699.33 893.95 L711.26 894.9 L723.19 892.75 L735.12 890.17 L747.06 888.66 L758.99 859.24 L770.92 859.24 L782.85 856.71 L794.78 855.74 L806.72 839.8 L818.65 838.01 L830.58 831.98 L842.51 830.29 L854.44 826.41 L866.38 822.81 L878.31 819.78 L890.24 814.29 L902.17 804.83 L914.1 800.73 L926.04 793.85 L937.97 791.28 L949.9 790.77 L961.83 790.77 L973.76 785.66 L985.7 776.83 L997.63 766.77 L1009.56 758.06 L1021.49 757.02 L1033.42 748.67 L1045.36 746.97 L1057.29 735.08 L1069.22 728.52 L1081.15 725.49 L1093.08 723.09 L1105.02 723.09 L1116.95 723.09 L1128.88 723.09 L1140.81 723.09 L1152.74 715.52 L1164.68 715.52 L1176.61 715.52 L1188.54 707.57 L1200.47 699.43 L1212.4 695.74 L1224.34 691.83 L1236.27 688.05 L1248.2 681.87 L1260.13 674.3 L1272.06 680.04 L1284 680.36 L1295.93 680.36 L1307.86 681.37 L1319.79 681.37 L1331.72 681.37 L1343.66 685.96 L1355.59 685.96 L1367.52 685.96 L1379.45 700.96 L1391.38 700.96 L1403.32 699.23 L1415.25 699.23 L1427.18 706.36 L1439.11 725.73 L1451.04 725.73 L1451.04 725.96 L1439.11 725.96 L1427.18 725.96 L1415.25 725.96 L1403.32 725.96 L1391.38 725.96 L1379.45 732.01 L1367.52 739.21 L1355.59 746.97 L1343.66 750.36 L1331.72 759.5 L1319.79 761.59 L1307.86 776.67 L1295.93 778.62 L1284 778.62 L1272.06 778.62 L1260.13 779.13 L1248.2 786.7 L1236.27 792.25 L1224.34 792.25 L1212.4 796.16 L1200.47 797.74 L1188.54 797.74 L1176.61 797.74 L1164.68 797.74 L1152.74 797.74 L1140.81 797.74 L1128.88 797.74 L1116.95 797.74 L1105.02 797.74 L1093.08 797.74 L1081.15 800.14 L1069.22 800.14 L1057.29 803.1 L1045.36 811.11 L1033.42 811.11 L1021.49 811.11 L1009.56 811.11 L997.63 811.11 L985.7 811.11 L973.76 812.69 L961.83 818.25 L949.9 818.25 L937.97 818.25 L926.04 820.45 L914.1 827.64 L902.17 831.81 L890.24 841.46 L878.31 847.14 L866.38 847.14 L854.44 847.14 L842.51 847.14 L830.58 847.14 L818.65 848.84 L806.72 849.79 L794.78 854.33 L782.85 854.33 L770.92 854.33 L758.99 854.33 L747.06 854.33 L735.12 854.33 L723.19 854.33 L711.26 854.33 L699.33 854.33 L687.4 854.33 L675.46 854.33 L663.53 854.33 L651.6 854.33 L639.67 854.33 L627.74 854.33 L615.8 854.33 L603.87 854.33 L591.94 854.33 L580.01 849.98 L568.08 846 L556.14 841.46 L544.21 826.7 L532.28 820.07 L520.35 800.76 L508.42 795.09 L496.48 789.41 L484.55 789.41 L472.62 747.2 L460.69 747.2 L448.76 739.81 L436.82 739.81 L424.89 739.81 L412.96 739.81 L401.03 739.81 L389.1 739.81 L377.16 739.81 L365.23 738.3 L353.3 738.3 L341.37 732.43 L329.44 732.43 L317.5 732.43 L305.57 732.43 L293.64 732.43 L281.71 732.43 L269.78 732.43 L257.84 732.43 L245.91 732.43 L233.98 732.43 L222.05 732.43 L210.12 732.43 L198.18 732.43 L186.25 726.94 L174.32 714.64 L162.39 708.39 L150.46 706.5 L138.52 699.31 L126.59 699.31 L114.66 699.31 L102.73 699.31 L90.8 699.31 L78.86 699.31 L66.93 699.31 L55 699.31 Z" fill="#808080" fill-opacity="0.22" stroke="none" clip-path="url(#c2)"/>
<g class="grid"><line x1="293.5" y1="958.5" x2="293.5" y2="495.5" stroke-opacity="0.19"/><line x1="532.5" y1="958.5" x2="532.5" y2="495.5" stroke-opacity="0.28"/><line x1="770.5" y1="958.5" x2="770.5" y2="495.5" stroke-opacity="0.075"/><line x1="1009.5" y1="958.5" x2="1009.5" y2="495.5" stroke-opacity="0.28"/><line x1="1248.5" y1="958.5" x2="1248.5" y2="495.5" stroke-opacity="0.1"/><line x1="55.5" y1="898.5" x2="1474.5" y2="898.5" stroke-opacity="0.19"/><line x1="55.5" y1="839.5" x2="1474.5" y2="839.5" stroke-opacity="0.28"/><line x1="55.5" y1="780.5" x2="1474.5" y2="780.5" stroke-opacity="0.1"/><line x1="55.5" y1="721.5" x2="1474.5" y2="721.5" stroke-opacity="0.19"/><line x1="55.5" y1="662.5" x2="1474.5" y2="662.5" stroke-opacity="0.1"/><line x1="55.5" y1="602.5" x2="1474.5" y2="602.5" stroke-opacity="0.28"/><line x1="55.5" y1="543.5" x2="1474.5" y2="543.5" stroke-opacity="0.1"/></g><g class="grid gb"><line x1="293.5" y1="958.5" x2="293.5" y2="495.5" stroke-opacity="0.23"/><line x1="532.5" y1="958.5" x2="532.5" y2="495.5" stroke-opacity="0.34"/><line x1="770.5" y1="958.5" x2="770.5" y2="495.5" stroke-opacity="0.09"/><line x1="1009.5" y1="958.5" x2="1009.5" y2="495.5" stroke-opacity="0.34"/><line x1="1248.5" y1="958.5" x2="1248.5" y2="495.5" stroke-opacity="0.12"/><line x1="55.5" y1="898.5" x2="1474.5" y2="898.5" stroke-opacity="0.23"/><line x1="55.5" y1="839.5" x2="1474.5" y2="839.5" stroke-opacity="0.34"/><line x1="55.5" y1="780.5" x2="1474.5" y2="780.5" stroke-opacity="0.12"/><line x1="55.5" y1="721.5" x2="1474.5" y2="721.5" stroke-opacity="0.23"/><line x1="55.5" y1="662.5" x2="1474.5" y2="662.5" stroke-opacity="0.12"/><line x1="55.5" y1="602.5" x2="1474.5" y2="602.5" stroke-opacity="0.34"/><line x1="55.5" y1="543.5" x2="1474.5" y2="543.5" stroke-opacity="0.12"/></g>
<path d="M55 912.6 L66.93 925.47 L78.86 892.85 L90.8 891.65 L102.73 872.34 L114.66 864.09 L126.59 849.91 L138.52 827.08 L150.46 799.44 L162.39 791.87 L174.32 794.39 L186.25 764.87 L198.18 774.02 L210.12 794.27 L222.05 805.62 L233.98 819.82 L245.91 797.93 L257.84 782.53 L269.78 754.9 L281.71 730.61 L293.64 740.51 L305.57 707.79 L317.5 717.01 L329.44 717.14 L341.37 732.34 L353.3 692.85 L365.23 704.02 L377.16 705.15 L389.1 718.15 L401.03 732.34 L412.96 730.45 L424.89 706.79 L436.82 674.43 L448.76 678.46 L460.69 673.1 L472.62 670.33 L484.55 692.6 L496.48 675.81 L508.42 702.44 L520.35 675.81 L532.28 678.09 L544.21 682.06 L556.14 702.94 L568.08 699.22 L580.01 677.27 L591.94 671.65 L603.87 662.82 L615.8 664.08 L627.74 642.12 L639.67 627.61 L651.6 698.09 L663.53 711.27 L675.46 708.75 L687.4 728.29 L699.33 724.99 L711.26 713.76 L723.19 727.27 L735.12 701.15 L747.06 689.79 L758.99 691.68 L770.92 696.35 L782.85 683.16 L794.78 696.1 L806.72 754.9 L818.65 787.27 L830.58 787.27" fill="none" stroke="#47606e" stroke-width="0.8" clip-path="url(#c2)" stroke-linejoin="round" stroke-linecap="square" />
<path d="M55 854.52 L66.93 859.82 L78.86 864.55 L90.8 874.96 L102.73 885.38 L114.66 888.22 L126.59 884.43 L138.52 884.43 L150.46 874.62 L162.39 874.62 L174.32 874.62 L186.25 874.62 L198.18 863.39 L210.12 857.14 L222.05 857.14 L233.98 866.54 L245.91 866.54 L257.84 866.54 L269.78 866.54 L281.71 866.54 L293.64 870.2 L305.57 875.56 L317.5 880.74 L329.44 884.08 L341.37 884.08 L353.3 884.08 L365.23 889.88 L377.16 896.57 L389.1 904.77 L401.03 906.67 L412.96 902.38 L424.89 897.2 L436.82 891.22 L448.76 859.24 L460.69 859.24 L472.62 856.71 L484.55 854.76 L496.48 831.29 L508.42 828.45 L520.35 817.85 L532.28 814.46 L544.21 806.7 L556.14 799.5 L568.08 793.45 L580.01 787.96 L591.94 778.5 L603.87 774.39 L615.8 767.52 L627.74 764.95 L639.67 764.44 L651.6 764.44 L663.53 758.64 L675.46 742.55 L687.4 724.38 L699.33 722.04 L711.26 722.04 L723.19 714.49 L735.12 714.49 L747.06 706.48 L758.99 703.51 L770.92 703.51 L782.85 701.11 L794.78 701.11 L806.72 701.11 L818.65 701.11 L830.58 701.11 L842.51 685.97 L854.44 685.97 L866.38 685.97 L878.31 685.97 L890.24 687.86 L902.17 684.39 L914.1 680.48 L926.04 680.48 L937.97 673.67 L949.9 666.1 L961.83 678.09 L973.76 678.72 L985.7 678.72 L997.63 680.74 L1009.56 680.74 L1021.49 680.74 L1033.42 685.96 L1045.36 685.96 L1057.29 685.96 L1069.22 715.97 L1081.15 715.97 L1093.08 712.5 L1105.02 712.5 L1116.95 719.63 L1128.88 739 L1140.81 739" fill="none" stroke="#e0607e" stroke-width="1.15" clip-path="url(#c2)" stroke-linejoin="round" stroke-linecap="square" />
<path d="M55 854.14 L66.93 854.14 L78.86 854.14 L90.8 854.14 L102.73 854.14 L114.66 854.14 L126.59 854.14 L138.52 854.14 L150.46 854.14 L162.39 854.14 L174.32 854.14 L186.25 854.14 L198.18 854.14 L210.12 854.14 L222.05 854.14 L233.98 854.14 L245.91 854.14 L257.84 854.14 L269.78 859.06 L281.71 863.99 L293.64 875.34 L305.57 884.43 L317.5 884.43 L329.44 884.43 L341.37 884.43 L353.3 874.62 L365.23 876.44 L377.16 883.13 L389.1 883.13 L401.03 883.13 L412.96 883.13 L424.89 883.13 L436.82 886.1 L448.76 859.24 L460.69 859.24 L472.62 856.71 L484.55 856.71 L496.48 848.32 L508.42 847.56 L520.35 846.11 L532.28 846.11 L544.21 846.11 L556.14 846.11 L568.08 846.11 L580.01 840.62 L591.94 831.16 L603.87 827.06 L615.8 820.18 L627.74 817.61 L639.67 817.11 L651.6 817.11 L663.53 812.69 L675.46 811.11 L687.4 809.16 L699.33 794.08 L711.26 792 L723.19 782.85 L735.12 779.46 L747.06 763.68 L758.99 753.53 L770.92 747.47 L782.85 745.07 L794.78 745.07 L806.72 745.07 L818.65 745.07 L830.58 745.07 L842.51 745.07 L854.44 745.07 L866.38 745.07 L878.31 729.17 L890.24 711 L902.17 707.09 L914.1 703.18 L926.04 695.62 L937.97 690.07 L949.9 682.5 L961.83 682 L973.76 682 L985.7 682 L997.63 682 L1009.56 682 L1021.49 682 L1033.42 685.96 L1045.36 685.96 L1057.29 685.96 L1069.22 685.96 L1081.15 685.96 L1093.08 685.96 L1105.02 685.96 L1116.95 693.09 L1128.88 712.45 L1140.81 712.45" fill="none" stroke="#ffd43b" stroke-width="1.3" clip-path="url(#c2)" stroke-linejoin="round" stroke-linecap="square" />
<path d="M55 783.54 L66.93 786 L78.86 791.11 L90.8 791.11 L102.73 781.84 L114.66 781.84 L126.59 781.84 L138.52 783.16 L150.46 789.22 L162.39 789.41 L174.32 810.99 L186.25 819.13 L198.18 821.96 L210.12 824.8 L222.05 834.27 L233.98 837.49 L245.91 845.63 L257.84 839.57 L269.78 840.51 L281.71 842.41 L293.64 838.62 L305.57 829.54 L317.5 829.91 L329.44 833.7 L341.37 840.33 L353.3 854.14 L365.23 854.52 L377.16 856.98 L389.1 859.44 L401.03 864.55 L412.96 869.85 L424.89 870.8 L436.82 868.91 L448.76 868.91 L460.69 864.36 L472.62 864.36 L484.55 864.36 L496.48 864.36 L508.42 858.88 L520.35 855.66 L532.28 855.66 L544.21 860.39 L556.14 860.39 L568.08 860.39 L580.01 863.23 L591.94 865.5 L603.87 872.69 L615.8 879.7 L627.74 882.54 L639.67 884.43 L651.6 884.43 L663.53 879.35 L675.46 883.16 L687.4 889.85 L699.33 893.95 L711.26 894.9 L723.19 892.75 L735.12 890.17 L747.06 888.66 L758.99 859.24 L770.92 859.24 L782.85 856.71 L794.78 855.74 L806.72 839.8 L818.65 838.01 L830.58 831.98 L842.51 830.29 L854.44 826.41 L866.38 822.81 L878.31 819.78 L890.24 814.29 L902.17 804.83 L914.1 800.73 L926.04 793.85 L937.97 791.28 L949.9 790.77 L961.83 790.77 L973.76 785.66 L985.7 776.83 L997.63 766.77 L1009.56 758.06 L1021.49 757.02 L1033.42 748.67 L1045.36 746.97 L1057.29 735.08 L1069.22 728.52 L1081.15 725.49 L1093.08 723.09 L1105.02 723.09 L1116.95 723.09 L1128.88 723.09 L1140.81 723.09 L1152.74 715.52 L1164.68 715.52 L1176.61 715.52 L1188.54 707.57 L1200.47 699.43 L1212.4 695.74 L1224.34 691.83 L1236.27 688.05 L1248.2 681.87 L1260.13 674.3 L1272.06 680.04 L1284 680.36 L1295.93 680.36 L1307.86 681.37 L1319.79 681.37 L1331.72 681.37 L1343.66 685.96 L1355.59 685.96 L1367.52 685.96 L1379.45 700.96 L1391.38 700.96 L1403.32 699.23 L1415.25 699.23 L1427.18 706.36 L1439.11 725.73 L1451.04 725.73" fill="none" stroke="#2aa18f" stroke-width="1.25" clip-path="url(#c2)" stroke-linejoin="round" stroke-linecap="square" />
<path d="M55 699.31 L66.93 699.31 L78.86 699.31 L90.8 699.31 L102.73 699.31 L114.66 699.31 L126.59 699.31 L138.52 699.31 L150.46 706.5 L162.39 708.39 L174.32 714.64 L186.25 726.94 L198.18 732.43 L210.12 732.43 L222.05 732.43 L233.98 732.43 L245.91 732.43 L257.84 732.43 L269.78 732.43 L281.71 732.43 L293.64 732.43 L305.57 732.43 L317.5 732.43 L329.44 732.43 L341.37 732.43 L353.3 738.3 L365.23 738.3 L377.16 739.81 L389.1 739.81 L401.03 739.81 L412.96 739.81 L424.89 739.81 L436.82 739.81 L448.76 739.81 L460.69 747.2 L472.62 747.2 L484.55 789.41 L496.48 789.41 L508.42 795.09 L520.35 800.76 L532.28 820.07 L544.21 826.7 L556.14 841.46 L568.08 846 L580.01 849.98 L591.94 854.33 L603.87 854.33 L615.8 854.33 L627.74 854.33 L639.67 854.33 L651.6 854.33 L663.53 854.33 L675.46 854.33 L687.4 854.33 L699.33 854.33 L711.26 854.33 L723.19 854.33 L735.12 854.33 L747.06 854.33 L758.99 854.33 L770.92 854.33 L782.85 854.33 L794.78 854.33 L806.72 849.79 L818.65 848.84 L830.58 847.14 L842.51 847.14 L854.44 847.14 L866.38 847.14 L878.31 847.14 L890.24 841.46 L902.17 831.81 L914.1 827.64 L926.04 820.45 L937.97 818.25 L949.9 818.25 L961.83 818.25 L973.76 812.69 L985.7 811.11 L997.63 811.11 L1009.56 811.11 L1021.49 811.11 L1033.42 811.11 L1045.36 811.11 L1057.29 803.1 L1069.22 800.14 L1081.15 800.14 L1093.08 797.74 L1105.02 797.74 L1116.95 797.74 L1128.88 797.74 L1140.81 797.74 L1152.74 797.74 L1164.68 797.74 L1176.61 797.74 L1188.54 797.74 L1200.47 797.74 L1212.4 796.16 L1224.34 792.25 L1236.27 792.25 L1248.2 786.7 L1260.13 779.13 L1272.06 778.62 L1284 778.62 L1295.93 778.62 L1307.86 776.67 L1319.79 761.59 L1331.72 759.5 L1343.66 750.36 L1355.59 746.97 L1367.52 739.21 L1379.45 732.01 L1391.38 725.96 L1403.32 725.96 L1415.25 725.96 L1427.18 725.96 L1439.11 725.96 L1451.04 725.96" fill="none" stroke="#a31f23" stroke-width="1.4" clip-path="url(#c2)" stroke-linejoin="round" stroke-linecap="square" />
<g stroke-width="1" fill="none"><line x1="55.5" y1="495.5" x2="55.5" y2="958.5" stroke="#909090" stroke-width=".85"/><line x1="1474.5" y1="495.5" x2="1474.5" y2="958.5" stroke="#c6c6c6"/><line x1="55" y1="495.5" x2="1475" y2="495.5" stroke="#444"/><line x1="55" y1="958.5" x2="1475" y2="958.5" stroke="#b5b5b5"/></g>
<g class="tick xt"><line x1="55.5" y1="959" x2="55.5" y2="961.5"/><line x1="293.5" y1="959" x2="293.5" y2="961.5"/><line x1="532.5" y1="959" x2="532.5" y2="961.5"/><line x1="770.5" y1="959" x2="770.5" y2="961.5"/><line x1="1009.5" y1="959" x2="1009.5" y2="961.5"/><line x1="1248.5" y1="959" x2="1248.5" y2="961.5"/></g>
<g class="tick"><line x1="1475" y1="957.5" x2="1477.5" y2="957.5"/><line x1="1475" y1="898.5" x2="1477.5" y2="898.5"/><line x1="1475" y1="839.5" x2="1477.5" y2="839.5"/><line x1="1475" y1="780.5" x2="1477.5" y2="780.5"/><line x1="1475" y1="721.5" x2="1477.5" y2="721.5"/><line x1="1475" y1="662.5" x2="1477.5" y2="662.5"/><line x1="1475" y1="602.5" x2="1477.5" y2="602.5"/><line x1="1475" y1="543.5" x2="1477.5" y2="543.5"/></g>
<g class="tl"><text x="1479.2" y="965.79" textLength="102.05" lengthAdjust="spacingAndGlyphs">3,000,000</text><text x="1479.2" y="906.6" textLength="102.05" lengthAdjust="spacingAndGlyphs">3,500,000</text><text x="1479.2" y="847.41" textLength="102.05" lengthAdjust="spacingAndGlyphs">4,000,000</text><text x="1479.2" y="788.23" textLength="102.05" lengthAdjust="spacingAndGlyphs">4,500,000</text><text x="1479.2" y="729.05" textLength="102.05" lengthAdjust="spacingAndGlyphs">5,000,000</text><text x="1479.2" y="669.86" textLength="102.05" lengthAdjust="spacingAndGlyphs">5,500,000</text><text x="1479.2" y="610.67" textLength="102.05" lengthAdjust="spacingAndGlyphs">6,000,000</text><text x="1479.2" y="551.49" textLength="102.05" lengthAdjust="spacingAndGlyphs">6,500,000</text></g>
<text font-size="20.7" transform="translate(49.6 728.5) rotate(-90)" text-anchor="middle" >一目均衡表</text>
<rect x="613.5" y="505.8" width="851.8" height="33.8" rx="4" ry="4" fill="#fff" fill-opacity="0.8" stroke="#e4e4e4" stroke-width="1"/>
<line x1="620.9" y1="520.7" x2="661.5" y2="520.7" stroke="#4f6d7a" stroke-width="1.2"/>
<text class="lg" x="676.3" y="529.1" >遅行線</text>
<line x1="774.7" y1="520.7" x2="815.3" y2="520.7" stroke="#e0607e" stroke-width="1.2"/>
<text class="lg" x="830.4" y="529.1" >転換線</text>
<line x1="928.8" y1="520.7" x2="969.4" y2="520.7" stroke="#ffd23f" stroke-width="1.2"/>
<text class="lg" x="984.7" y="529.1" >基準線</text>
<line x1="1083" y1="520.7" x2="1123.6" y2="520.7" stroke="#2aa18f" stroke-width="1.2"/>
<text class="lg" x="1139" y="529.1" >先行スパン1</text>
<line x1="1289.9" y1="520.7" x2="1330.5" y2="520.7" stroke="#b22222" stroke-width="1.2"/>
<text class="lg" x="1345.8" y="529.1" >先行スパン2</text>
<g class="cd" clip-path="url(#c3)"><line x1="55" y1="1334.62" x2="55" y2="1344.66" stroke="#38a69a"/><rect x="51.6" y="1334.55" width="6.8" height="10.11" fill="#38a69a"/><line x1="66.93" y1="1323.74" x2="66.93" y2="1344.45" stroke="#38a69a"/><rect x="63.53" y="1328.02" width="6.8" height="6.53" fill="#38a69a"/><line x1="78.86" y1="1321.84" x2="78.86" y2="1351.82" stroke="#e27570"/><rect x="75.46" y="1328.02" width="6.8" height="22.19" fill="#e27570"/><line x1="90.8" y1="1341.85" x2="90.8" y2="1360.11" stroke="#38a69a"/><rect x="87.4" y="1345.26" width="6.8" height="4.95" fill="#38a69a"/><line x1="102.73" y1="1328.02" x2="102.73" y2="1347.61" stroke="#38a69a"/><rect x="99.33" y="1328.09" width="6.8" height="17.17" fill="#38a69a"/><line x1="114.66" y1="1324.09" x2="114.66" y2="1333.78" stroke="#e27570"/><rect x="111.26" y="1328.09" width="6.8" height="1.97" fill="#e27570"/><line x1="126.59" y1="1314.61" x2="126.59" y2="1331.11" stroke="#38a69a"/><rect x="123.19" y="1319.66" width="6.8" height="10.39" fill="#38a69a"/><line x1="138.52" y1="1318.61" x2="138.52" y2="1332.16" stroke="#e27570"/><rect x="135.12" y="1319.66" width="6.8" height="4.6" fill="#e27570"/><line x1="150.46" y1="1324.09" x2="150.46" y2="1340.38" stroke="#e27570"/><rect x="147.06" y="1324.26" width="6.8" height="10.08" fill="#e27570"/><line x1="162.39" y1="1331.25" x2="162.39" y2="1340.66" stroke="#38a69a"/><rect x="158.99" y="1333.74" width="6.8" height="1" fill="#38a69a"/><line x1="174.32" y1="1325.77" x2="174.32" y2="1336.73" stroke="#38a69a"/><rect x="170.92" y="1327.63" width="6.8" height="6.11" fill="#38a69a"/><line x1="186.25" y1="1317.91" x2="186.25" y2="1330.06" stroke="#38a69a"/><rect x="182.85" y="1322.4" width="6.8" height="5.23" fill="#38a69a"/><line x1="198.18" y1="1321.98" x2="198.18" y2="1338.48" stroke="#e27570"/><rect x="194.78" y="1322.4" width="6.8" height="12.08" fill="#e27570"/><line x1="210.12" y1="1325.14" x2="210.12" y2="1336.16" stroke="#38a69a"/><rect x="206.72" y="1331.81" width="6.8" height="2.67" fill="#38a69a"/><line x1="222.05" y1="1325.84" x2="222.05" y2="1334.76" stroke="#e27570"/><rect x="218.65" y="1331.81" width="6.8" height="2.49" fill="#e27570"/><line x1="233.98" y1="1334.13" x2="233.98" y2="1347.82" stroke="#e27570"/><rect x="230.58" y="1334.3" width="6.8" height="8.95" fill="#e27570"/><line x1="245.91" y1="1333.57" x2="245.91" y2="1347.61" stroke="#38a69a"/><rect x="242.51" y="1335.81" width="6.8" height="7.44" fill="#38a69a"/><line x1="257.84" y1="1332.51" x2="257.84" y2="1341.08" stroke="#e27570"/><rect x="254.44" y="1335.81" width="6.8" height="1.97" fill="#e27570"/><line x1="269.78" y1="1330.41" x2="269.78" y2="1338.83" stroke="#38a69a"/><rect x="266.38" y="1332.51" width="6.8" height="5.27" fill="#38a69a"/><line x1="281.71" y1="1329.56" x2="281.71" y2="1343.89" stroke="#e27570"/><rect x="278.31" y="1332.51" width="6.8" height="7.79" fill="#e27570"/><line x1="293.64" y1="1338.69" x2="293.64" y2="1346.21" stroke="#e27570"/><rect x="290.24" y="1340.31" width="6.8" height="2.39" fill="#e27570"/><line x1="305.57" y1="1341.08" x2="305.57" y2="1350.63" stroke="#e27570"/><rect x="302.17" y="1342.69" width="6.8" height="1" fill="#e27570"/><line x1="317.5" y1="1340.8" x2="317.5" y2="1355.69" stroke="#e27570"/><rect x="314.1" y="1343.26" width="6.8" height="7.23" fill="#e27570"/><line x1="329.44" y1="1346.91" x2="329.44" y2="1355.69" stroke="#e27570"/><rect x="326.04" y="1350.49" width="6.8" height="2.88" fill="#e27570"/><line x1="341.37" y1="1349.23" x2="341.37" y2="1354.98" stroke="#38a69a"/><rect x="337.97" y="1352.81" width="6.8" height="1" fill="#38a69a"/><line x1="353.3" y1="1346.21" x2="353.3" y2="1355.12" stroke="#38a69a"/><rect x="349.9" y="1350.77" width="6.8" height="2.04" fill="#38a69a"/><line x1="365.23" y1="1349.93" x2="365.23" y2="1362.15" stroke="#e27570"/><rect x="361.83" y="1350.77" width="6.8" height="7.72" fill="#e27570"/><line x1="377.16" y1="1357.09" x2="377.16" y2="1369.59" stroke="#e27570"/><rect x="373.76" y="1358.49" width="6.8" height="7.16" fill="#e27570"/><line x1="389.1" y1="1342.69" x2="389.1" y2="1367.41" stroke="#38a69a"/><rect x="385.7" y="1347.5" width="6.8" height="18.15" fill="#38a69a"/><line x1="401.03" y1="1344.66" x2="401.03" y2="1350.63" stroke="#38a69a"/><rect x="397.63" y="1346.84" width="6.8" height="1" fill="#38a69a"/><line x1="412.96" y1="1336.02" x2="412.96" y2="1348.31" stroke="#38a69a"/><rect x="409.56" y="1336.09" width="6.8" height="10.74" fill="#38a69a"/><line x1="424.89" y1="1330.27" x2="424.89" y2="1338.13" stroke="#38a69a"/><rect x="421.49" y="1331.5" width="6.8" height="4.59" fill="#38a69a"/><line x1="436.82" y1="1323.61" x2="436.82" y2="1334.36" stroke="#38a69a"/><rect x="433.42" y="1323.61" width="6.8" height="7.89" fill="#38a69a"/><line x1="448.76" y1="1288.01" x2="448.76" y2="1325.72" stroke="#38a69a"/><rect x="445.36" y="1310.9" width="6.8" height="12.71" fill="#38a69a"/><line x1="460.69" y1="1295.03" x2="460.69" y2="1317.71" stroke="#38a69a"/><rect x="457.29" y="1295.52" width="6.8" height="15.38" fill="#38a69a"/><line x1="472.62" y1="1285.2" x2="472.62" y2="1298.19" stroke="#38a69a"/><rect x="469.22" y="1291.31" width="6.8" height="4.21" fill="#38a69a"/><line x1="484.55" y1="1286.82" x2="484.55" y2="1297.14" stroke="#e27570"/><rect x="481.15" y="1291.31" width="6.8" height="1.4" fill="#e27570"/><line x1="496.48" y1="1275.86" x2="496.48" y2="1304.51" stroke="#38a69a"/><rect x="493.08" y="1276.28" width="6.8" height="16.43" fill="#38a69a"/><line x1="508.42" y1="1275.02" x2="508.42" y2="1284.71" stroke="#e27570"/><rect x="505.02" y="1276.28" width="6.8" height="5.09" fill="#e27570"/><line x1="520.35" y1="1273.41" x2="520.35" y2="1296.09" stroke="#e27570"/><rect x="516.95" y="1281.38" width="6.8" height="11.27" fill="#e27570"/><line x1="532.28" y1="1289.06" x2="532.28" y2="1302.76" stroke="#e27570"/><rect x="528.88" y="1292.65" width="6.8" height="6.32" fill="#e27570"/><line x1="544.21" y1="1294.68" x2="544.21" y2="1310.48" stroke="#e27570"/><rect x="540.81" y="1298.97" width="6.8" height="7.9" fill="#e27570"/><line x1="556.14" y1="1292.93" x2="556.14" y2="1310.97" stroke="#38a69a"/><rect x="552.74" y="1294.68" width="6.8" height="12.18" fill="#38a69a"/><line x1="568.08" y1="1281.9" x2="568.08" y2="1309.43" stroke="#38a69a"/><rect x="564.68" y="1286.11" width="6.8" height="8.57" fill="#38a69a"/><line x1="580.01" y1="1267.3" x2="580.01" y2="1293.28" stroke="#38a69a"/><rect x="576.61" y="1270.74" width="6.8" height="15.38" fill="#38a69a"/><line x1="591.94" y1="1256.76" x2="591.94" y2="1273.05" stroke="#38a69a"/><rect x="588.54" y="1257.22" width="6.8" height="13.52" fill="#38a69a"/><line x1="603.87" y1="1252.2" x2="603.87" y2="1266.73" stroke="#e27570"/><rect x="600.47" y="1257.22" width="6.8" height="5.51" fill="#e27570"/><line x1="615.8" y1="1244.54" x2="615.8" y2="1270.46" stroke="#38a69a"/><rect x="612.4" y="1244.52" width="6.8" height="18.21" fill="#38a69a"/><line x1="627.74" y1="1241.68" x2="627.74" y2="1255.59" stroke="#e27570"/><rect x="624.34" y="1244.52" width="6.8" height="5.13" fill="#e27570"/><line x1="639.67" y1="1241.12" x2="639.67" y2="1250.95" stroke="#e27570"/><rect x="636.27" y="1249.65" width="6.8" height="1" fill="#e27570"/><line x1="651.6" y1="1244.84" x2="651.6" y2="1262.05" stroke="#e27570"/><rect x="648.2" y="1249.72" width="6.8" height="8.46" fill="#e27570"/><line x1="663.53" y1="1236.21" x2="663.53" y2="1258.89" stroke="#38a69a"/><rect x="660.13" y="1236.21" width="6.8" height="21.98" fill="#38a69a"/><line x1="675.46" y1="1234.45" x2="675.46" y2="1249.9" stroke="#e27570"/><rect x="672.06" y="1236.21" width="6.8" height="6.21" fill="#e27570"/><line x1="687.4" y1="1239.93" x2="687.4" y2="1253.76" stroke="#e27570"/><rect x="684" y="1242.42" width="6.8" height="1" fill="#e27570"/><line x1="699.33" y1="1236.63" x2="699.33" y2="1251.65" stroke="#e27570"/><rect x="695.93" y="1243.05" width="6.8" height="7.23" fill="#e27570"/><line x1="711.26" y1="1241.82" x2="711.26" y2="1259.94" stroke="#e27570"/><rect x="707.86" y="1250.29" width="6.8" height="7.9" fill="#e27570"/><line x1="723.19" y1="1248.35" x2="723.19" y2="1261.49" stroke="#38a69a"/><rect x="719.79" y="1257.13" width="6.8" height="1.05" fill="#38a69a"/><line x1="735.12" y1="1241.82" x2="735.12" y2="1262.05" stroke="#38a69a"/><rect x="731.72" y="1243.97" width="6.8" height="13.17" fill="#38a69a"/><line x1="747.06" y1="1225.53" x2="747.06" y2="1244.35" stroke="#38a69a"/><rect x="743.66" y="1225.95" width="6.8" height="18.01" fill="#38a69a"/><line x1="758.99" y1="1222.23" x2="758.99" y2="1233.26" stroke="#e27570"/><rect x="755.59" y="1225.95" width="6.8" height="2.25" fill="#e27570"/><line x1="770.92" y1="1225.04" x2="770.92" y2="1233.96" stroke="#38a69a"/><rect x="767.52" y="1225.22" width="6.8" height="2.98" fill="#38a69a"/><line x1="782.85" y1="1219.56" x2="782.85" y2="1227.64" stroke="#38a69a"/><rect x="779.45" y="1223.67" width="6.8" height="1.54" fill="#38a69a"/><line x1="794.78" y1="1221.67" x2="794.78" y2="1236.42" stroke="#e27570"/><rect x="791.38" y="1223.67" width="6.8" height="12.39" fill="#e27570"/><line x1="806.72" y1="1224.48" x2="806.72" y2="1241.12" stroke="#38a69a"/><rect x="803.32" y="1226.73" width="6.8" height="9.34" fill="#38a69a"/><line x1="818.65" y1="1223.78" x2="818.65" y2="1243.79" stroke="#e27570"/><rect x="815.25" y="1226.73" width="6.8" height="14.82" fill="#e27570"/><line x1="830.58" y1="1225.88" x2="830.58" y2="1245.19" stroke="#38a69a"/><rect x="827.18" y="1226.73" width="6.8" height="14.82" fill="#38a69a"/><line x1="842.51" y1="1225.18" x2="842.51" y2="1231.71" stroke="#e27570"/><rect x="839.11" y="1226.73" width="6.8" height="1.26" fill="#e27570"/><line x1="854.44" y1="1222.72" x2="854.44" y2="1236.07" stroke="#e27570"/><rect x="851.04" y="1227.99" width="6.8" height="2.21" fill="#e27570"/><line x1="866.38" y1="1229.39" x2="866.38" y2="1242.6" stroke="#e27570"/><rect x="862.98" y="1230.2" width="6.8" height="11.62" fill="#e27570"/><line x1="878.31" y1="1233.4" x2="878.31" y2="1243.79" stroke="#38a69a"/><rect x="874.91" y="1239.75" width="6.8" height="2.07" fill="#38a69a"/><line x1="890.24" y1="1225.88" x2="890.24" y2="1243.23" stroke="#38a69a"/><rect x="886.84" y="1227.53" width="6.8" height="12.22" fill="#38a69a"/><line x1="902.17" y1="1217.81" x2="902.17" y2="1229.39" stroke="#38a69a"/><rect x="898.77" y="1224.41" width="6.8" height="3.12" fill="#38a69a"/><line x1="914.1" y1="1213.45" x2="914.1" y2="1230.8" stroke="#38a69a"/><rect x="910.7" y="1219.49" width="6.8" height="4.92" fill="#38a69a"/><line x1="926.04" y1="1216.54" x2="926.04" y2="1223.78" stroke="#e27570"/><rect x="922.64" y="1219.49" width="6.8" height="1" fill="#e27570"/><line x1="937.97" y1="1207.28" x2="937.97" y2="1222.86" stroke="#38a69a"/><rect x="934.57" y="1207.98" width="6.8" height="12.22" fill="#38a69a"/><line x1="949.9" y1="1198.85" x2="949.9" y2="1212.05" stroke="#38a69a"/><rect x="946.5" y="1199.9" width="6.8" height="8.08" fill="#38a69a"/><line x1="961.83" y1="1198.29" x2="961.83" y2="1257.69" stroke="#e27570"/><rect x="958.43" y="1199.9" width="6.8" height="39.22" fill="#e27570"/><line x1="973.76" y1="1235.71" x2="973.76" y2="1258.4" stroke="#e27570"/><rect x="970.36" y="1239.12" width="6.8" height="7.34" fill="#e27570"/><line x1="985.7" y1="1238.31" x2="985.7" y2="1250.11" stroke="#38a69a"/><rect x="982.3" y="1245.05" width="6.8" height="1.4" fill="#38a69a"/><line x1="997.63" y1="1241.12" x2="997.63" y2="1260.64" stroke="#e27570"/><rect x="994.23" y="1245.05" width="6.8" height="10.88" fill="#e27570"/><line x1="1009.56" y1="1248.55" x2="1009.56" y2="1256.27" stroke="#38a69a"/><rect x="1006.16" y="1254.09" width="6.8" height="1.83" fill="#38a69a"/><line x1="1021.49" y1="1244.9" x2="1021.49" y2="1256.62" stroke="#38a69a"/><rect x="1018.09" y="1247.85" width="6.8" height="6.25" fill="#38a69a"/><line x1="1033.42" y1="1241.88" x2="1033.42" y2="1266.45" stroke="#e27570"/><rect x="1030.02" y="1247.85" width="6.8" height="7.51" fill="#e27570"/><line x1="1045.36" y1="1239.77" x2="1045.36" y2="1256.62" stroke="#38a69a"/><rect x="1041.96" y="1240.82" width="6.8" height="14.54" fill="#38a69a"/><line x1="1057.29" y1="1231.69" x2="1057.29" y2="1244.19" stroke="#38a69a"/><rect x="1053.89" y="1234.5" width="6.8" height="6.32" fill="#38a69a"/><line x1="1069.22" y1="1231.69" x2="1069.22" y2="1241.03" stroke="#e27570"/><rect x="1065.82" y="1234.5" width="6.8" height="1.05" fill="#e27570"/><line x1="1081.15" y1="1232.4" x2="1081.15" y2="1242.09" stroke="#e27570"/><rect x="1077.75" y="1235.56" width="6.8" height="2.6" fill="#e27570"/><line x1="1093.08" y1="1227.83" x2="1093.08" y2="1239.77" stroke="#38a69a"/><rect x="1089.68" y="1230.82" width="6.8" height="7.34" fill="#38a69a"/><line x1="1105.02" y1="1230.64" x2="1105.02" y2="1241.03" stroke="#e27570"/><rect x="1101.62" y="1230.82" width="6.8" height="7.2" fill="#e27570"/><line x1="1116.95" y1="1237.87" x2="1116.95" y2="1274.39" stroke="#e27570"/><rect x="1113.55" y="1238.01" width="6.8" height="32.72" fill="#e27570"/><line x1="1128.88" y1="1266.24" x2="1128.88" y2="1295.95" stroke="#e27570"/><rect x="1125.48" y="1270.74" width="6.8" height="18.01" fill="#e27570"/><line x1="1140.81" y1="1288.75" x2="1140.81" y2="1288.75" stroke="#38a69a"/><rect x="1137.41" y="1288.75" width="6.8" height="1" fill="#38a69a"/></g>
<path d="M55 1265.73 L66.93 1266.34 L78.86 1263.55 L90.8 1262.23 L102.73 1262.84 L114.66 1263.51 L126.59 1264.17 L138.52 1264.93 L150.46 1265.97 L162.39 1266.01 L174.32 1270.27 L186.25 1278.7 L198.18 1289.06 L210.12 1296.44 L222.05 1303.3 L233.98 1304.63 L245.91 1306.43 L257.84 1308.08 L269.78 1309.79 L281.71 1310.65 L293.64 1310.22 L305.57 1310.55 L317.5 1310.48 L329.44 1308.68 L341.37 1307.85 L353.3 1307.65 L365.23 1309.09 L377.16 1308.24 L389.1 1309.03 L401.03 1310.07 L412.96 1311.87 L424.89 1314.67 L436.82 1311.7 L448.76 1304.57 L460.69 1291.49 L472.62 1279.04 L484.55 1269.63 L496.48 1255.63 L508.42 1245.85 L520.35 1240.31 L532.28 1236.88 L544.21 1235.25 L556.14 1232.7 L568.08 1229.71 L580.01 1224.19 L591.94 1216.27 L603.87 1213.86 L615.8 1210.83 L627.74 1207.9 L639.67 1207.62 L651.6 1209.18 L663.53 1205.93 L675.46 1205.13 L687.4 1203.48 L699.33 1202 L711.26 1201.83 L723.19 1202.18 L735.12 1199.39 L747.06 1193.01 L758.99 1190.04 L770.92 1189.33 L782.85 1193.43 L794.78 1199.18 L806.72 1202.73 L818.65 1205.59 L830.58 1203.95 L842.51 1204.35 L854.44 1203.24 L866.38 1203.57 L878.31 1203.93 L890.24 1204.8 L902.17 1203.17 L914.1 1200.56 L926.04 1198.58 L937.97 1194.49 L949.9 1190.74 L961.83 1194.59 L973.76 1194.11 L985.7 1193.22 L997.63 1190.28 L1009.56 1188.87 L1021.49 1189.18 L1033.42 1187.65 L1045.36 1188.42 L1057.29 1188.33 L1069.22 1189.07 L1081.15 1189.78 L1093.08 1189.84 L1105.02 1189.84 L1116.95 1185.47 L1128.88 1178.22 L1140.81 1174.27 L1140.81 1197.14 L1128.88 1198.7 L1116.95 1202.52 L1105.02 1204.91 L1093.08 1204.98 L1081.15 1204.92 L1069.22 1204.28 L1057.29 1203.64 L1045.36 1203.82 L1033.42 1203.07 L1021.49 1203.76 L1009.56 1203.16 L997.63 1203.62 L985.7 1205.12 L973.76 1205.39 L961.83 1205.67 L949.9 1203.4 L937.97 1206.87 L926.04 1210.3 L914.1 1212.01 L902.17 1214.13 L890.24 1215.41 L878.31 1215.34 L866.38 1215.27 L854.44 1215.18 L842.51 1216.16 L830.58 1216.47 L818.65 1218.07 L806.72 1216.65 L794.78 1215.27 L782.85 1212.42 L770.92 1211.07 L758.99 1212.77 L747.06 1215.83 L735.12 1221.01 L723.19 1223.4 L711.26 1223.76 L699.33 1224.43 L687.4 1226.17 L675.46 1228.4 L663.53 1230.29 L651.6 1234.04 L639.67 1234.3 L627.74 1236.11 L615.8 1239.69 L603.87 1243.73 L591.94 1246.93 L580.01 1253.77 L568.08 1258.82 L556.14 1261.93 L544.21 1264.56 L532.28 1266.25 L520.35 1269.27 L508.42 1273.76 L496.48 1281.13 L484.55 1291.49 L472.62 1298.48 L460.69 1307.65 L448.76 1317.01 L436.82 1322.11 L424.89 1324.27 L412.96 1322.26 L401.03 1320.91 L389.1 1320.01 L377.16 1319.26 L365.23 1319.13 L353.3 1317.53 L341.37 1317.32 L329.44 1317.45 L317.5 1318.52 L305.57 1318.57 L293.64 1318.09 L281.71 1318.24 L269.78 1317.67 L257.84 1316.79 L245.91 1315.54 L233.98 1314.06 L222.05 1312.8 L210.12 1307.74 L198.18 1302.25 L186.25 1294.56 L174.32 1288.41 L162.39 1285.1 L150.46 1284.89 L138.52 1283.79 L126.59 1283.1 L114.66 1282.56 L102.73 1282.28 L90.8 1282.01 L78.86 1282.58 L66.93 1284.07 L55 1283.3 Z" fill="#34558b" fill-opacity="0.22" stroke="none" clip-path="url(#c3)"/>
<path d="M55 1353.59 L66.93 1354.99 L78.86 1358.67 L90.8 1361.13 L102.73 1360.01 L114.66 1358.78 L126.59 1358.81 L138.52 1359.25 L150.46 1360.61 L162.39 1361.45 L174.32 1360.97 L186.25 1358.04 L198.18 1354.99 L210.12 1352.91 L222.05 1350.78 L233.98 1351.79 L245.91 1352.01 L257.84 1351.62 L269.78 1349.22 L281.71 1348.61 L293.64 1349.57 L305.57 1350.62 L317.5 1350.69 L329.44 1352.57 L341.37 1355.18 L353.3 1357.04 L365.23 1359.32 L377.16 1363.33 L389.1 1363.9 L401.03 1364.3 L412.96 1363.81 L424.89 1362.7 L436.82 1363.78 L448.76 1366.79 L460.69 1372.27 L472.62 1376.24 L484.55 1378.93 L496.48 1383.13 L508.42 1385.4 L520.35 1385.11 L532.28 1383.76 L544.21 1381.81 L556.14 1378.86 L568.08 1375.25 L580.01 1372.09 L591.94 1369.57 L603.87 1363.2 L615.8 1355.12 L627.74 1348.92 L639.67 1341.02 L651.6 1333.48 L663.53 1327.71 L675.46 1321.48 L687.4 1316.93 L699.33 1314.14 L711.26 1311.49 L723.19 1308.29 L735.12 1307.46 L747.06 1307.1 L758.99 1303.71 L770.92 1298.03 L782.85 1288.37 L794.78 1279.65 L806.72 1272.33 L818.65 1267.99 L830.58 1266.54 L842.51 1263.39 L854.44 1262.93 L866.38 1262.06 L878.31 1260.99 L890.24 1257.86 L902.17 1257.96 L914.1 1257.79 L926.04 1257.2 L937.97 1256.41 L949.9 1254.05 L961.83 1249.98 L973.76 1250.51 L985.7 1252.69 L997.63 1256.96 L1009.56 1260.31 L1021.49 1262.12 L1033.42 1264.75 L1045.36 1265.41 L1057.29 1264.88 L1069.22 1265.12 L1081.15 1265.49 L1093.08 1265.51 L1105.02 1265.19 L1116.95 1270.68 L1128.88 1280.62 L1140.81 1288.62 L1140.81 1311.49 L1128.88 1301.1 L1116.95 1287.72 L1105.02 1280.26 L1093.08 1280.64 L1081.15 1280.64 L1069.22 1280.33 L1057.29 1280.19 L1045.36 1280.8 L1033.42 1280.17 L1021.49 1276.71 L1009.56 1274.6 L997.63 1270.3 L985.7 1264.59 L973.76 1261.79 L961.83 1261.05 L949.9 1266.71 L937.97 1268.79 L926.04 1268.93 L914.1 1269.23 L902.17 1268.92 L890.24 1268.47 L878.31 1272.4 L866.38 1273.76 L854.44 1274.87 L842.51 1275.2 L830.58 1279.06 L818.65 1280.47 L806.72 1286.25 L794.78 1295.75 L782.85 1307.36 L770.92 1319.77 L758.99 1326.44 L747.06 1329.92 L735.12 1329.07 L723.19 1329.52 L711.26 1333.43 L699.33 1336.57 L687.4 1339.62 L675.46 1344.75 L663.53 1352.07 L651.6 1358.34 L639.67 1367.69 L627.74 1377.13 L615.8 1383.98 L603.87 1393.07 L591.94 1400.23 L580.01 1401.67 L568.08 1404.36 L556.14 1408.1 L544.21 1411.13 L532.28 1413.13 L520.35 1414.07 L508.42 1413.31 L496.48 1408.63 L484.55 1400.78 L472.62 1395.68 L460.69 1388.43 L448.76 1379.23 L436.82 1374.19 L424.89 1372.31 L412.96 1374.2 L401.03 1375.15 L389.1 1374.87 L377.16 1374.35 L365.23 1369.36 L353.3 1366.91 L341.37 1364.65 L329.44 1361.35 L317.5 1358.74 L305.57 1358.63 L293.64 1357.44 L281.71 1356.2 L269.78 1357.11 L257.84 1360.33 L245.91 1361.13 L233.98 1361.22 L222.05 1360.28 L210.12 1364.21 L198.18 1368.18 L186.25 1373.91 L174.32 1379.11 L162.39 1380.53 L150.46 1379.54 L138.52 1378.12 L126.59 1377.74 L114.66 1377.83 L102.73 1379.44 L90.8 1380.91 L78.86 1377.69 L66.93 1372.72 L55 1371.16 Z" fill="#34558b" fill-opacity="0.22" stroke="none" clip-path="url(#c3)"/>
<path d="M55 1283.3 L66.93 1284.07 L78.86 1282.58 L90.8 1282.01 L102.73 1282.28 L114.66 1282.56 L126.59 1283.1 L138.52 1283.79 L150.46 1284.89 L162.39 1285.1 L174.32 1288.41 L186.25 1294.56 L198.18 1302.25 L210.12 1307.74 L222.05 1312.8 L233.98 1314.06 L245.91 1315.54 L257.84 1316.79 L269.78 1317.67 L281.71 1318.24 L293.64 1318.09 L305.57 1318.57 L317.5 1318.52 L329.44 1317.45 L341.37 1317.32 L353.3 1317.53 L365.23 1319.13 L377.16 1319.26 L389.1 1320.01 L401.03 1320.91 L412.96 1322.26 L424.89 1324.27 L436.82 1322.11 L448.76 1317.01 L460.69 1307.65 L472.62 1298.48 L484.55 1291.49 L496.48 1281.13 L508.42 1273.76 L520.35 1269.27 L532.28 1266.25 L544.21 1264.56 L556.14 1261.93 L568.08 1258.82 L580.01 1253.77 L591.94 1246.93 L603.87 1243.73 L615.8 1239.69 L627.74 1236.11 L639.67 1234.3 L651.6 1234.04 L663.53 1230.29 L675.46 1228.4 L687.4 1226.17 L699.33 1224.43 L711.26 1223.76 L723.19 1223.4 L735.12 1221.01 L747.06 1215.83 L758.99 1212.77 L770.92 1211.07 L782.85 1212.42 L794.78 1215.27 L806.72 1216.65 L818.65 1218.07 L830.58 1216.47 L842.51 1216.16 L854.44 1215.18 L866.38 1215.27 L878.31 1215.34 L890.24 1215.41 L902.17 1214.13 L914.1 1212.01 L926.04 1210.3 L937.97 1206.87 L949.9 1203.4 L961.83 1205.67 L973.76 1205.39 L985.7 1205.12 L997.63 1203.62 L1009.56 1203.16 L1021.49 1203.76 L1033.42 1203.07 L1045.36 1203.82 L1057.29 1203.64 L1069.22 1204.28 L1081.15 1204.92 L1093.08 1204.98 L1105.02 1204.91 L1116.95 1202.52 L1128.88 1198.7 L1140.81 1197.14 L1140.81 1220.01 L1128.88 1219.18 L1116.95 1219.56 L1105.02 1219.98 L1093.08 1220.11 L1081.15 1220.07 L1069.22 1219.49 L1057.29 1218.95 L1045.36 1219.21 L1033.42 1218.49 L1021.49 1218.35 L1009.56 1217.45 L997.63 1216.95 L985.7 1217.01 L973.76 1216.67 L961.83 1216.75 L949.9 1216.06 L937.97 1219.25 L926.04 1222.03 L914.1 1223.45 L902.17 1225.08 L890.24 1226.02 L878.31 1226.75 L866.38 1226.97 L854.44 1227.12 L842.51 1227.96 L830.58 1228.99 L818.65 1230.55 L806.72 1230.57 L794.78 1231.37 L782.85 1231.4 L770.92 1232.81 L758.99 1235.51 L747.06 1238.64 L735.12 1242.62 L723.19 1244.63 L711.26 1245.7 L699.33 1246.86 L687.4 1248.86 L675.46 1251.67 L663.53 1254.64 L651.6 1258.9 L639.67 1260.98 L627.74 1264.31 L615.8 1268.55 L603.87 1273.6 L591.94 1277.59 L580.01 1283.35 L568.08 1287.92 L556.14 1291.16 L544.21 1293.87 L532.28 1295.63 L520.35 1298.23 L508.42 1301.67 L496.48 1306.63 L484.55 1313.35 L472.62 1317.92 L460.69 1323.8 L448.76 1329.45 L436.82 1332.53 L424.89 1333.88 L412.96 1332.64 L401.03 1331.76 L389.1 1330.98 L377.16 1330.28 L365.23 1329.18 L353.3 1327.41 L341.37 1326.78 L329.44 1326.23 L317.5 1326.56 L305.57 1326.58 L293.64 1325.96 L281.71 1325.83 L269.78 1325.56 L257.84 1325.5 L245.91 1324.66 L233.98 1323.49 L222.05 1322.29 L210.12 1319.03 L198.18 1315.43 L186.25 1310.43 L174.32 1306.55 L162.39 1304.19 L150.46 1303.82 L138.52 1302.66 L126.59 1302.03 L114.66 1301.62 L102.73 1301.71 L90.8 1301.79 L78.86 1301.6 L66.93 1301.8 L55 1300.87 Z" fill="#2a7f9e" fill-opacity="0.22" stroke="none" clip-path="url(#c3)"/>
<path d="M55 1336.02 L66.93 1337.26 L78.86 1339.65 L90.8 1341.35 L102.73 1340.58 L114.66 1339.72 L126.59 1339.88 L138.52 1340.39 L150.46 1341.68 L162.39 1342.36 L174.32 1342.83 L186.25 1342.17 L198.18 1341.81 L210.12 1341.62 L222.05 1341.29 L233.98 1342.36 L245.91 1342.9 L257.84 1342.91 L269.78 1341.33 L281.71 1341.02 L293.64 1341.7 L305.57 1342.61 L317.5 1342.65 L329.44 1343.79 L341.37 1345.71 L353.3 1347.16 L365.23 1349.27 L377.16 1352.31 L389.1 1352.93 L401.03 1353.46 L412.96 1353.42 L424.89 1353.09 L436.82 1353.36 L448.76 1354.34 L460.69 1356.12 L472.62 1356.8 L484.55 1357.07 L496.48 1357.63 L508.42 1357.49 L520.35 1356.15 L532.28 1354.38 L544.21 1352.5 L556.14 1349.63 L568.08 1346.14 L580.01 1342.51 L591.94 1338.91 L603.87 1333.33 L615.8 1326.26 L627.74 1320.72 L639.67 1314.34 L651.6 1308.62 L663.53 1303.35 L675.46 1298.21 L687.4 1294.24 L699.33 1291.71 L711.26 1289.56 L723.19 1287.07 L735.12 1285.85 L747.06 1284.28 L758.99 1280.97 L770.92 1276.29 L782.85 1269.38 L794.78 1263.56 L806.72 1258.41 L818.65 1255.51 L830.58 1254.03 L842.51 1251.58 L854.44 1250.99 L866.38 1250.36 L878.31 1249.58 L890.24 1247.24 L902.17 1247 L914.1 1246.34 L926.04 1245.48 L937.97 1244.02 L949.9 1241.39 L961.83 1238.9 L973.76 1239.23 L985.7 1240.8 L997.63 1243.63 L1009.56 1246.02 L1021.49 1247.53 L1033.42 1249.33 L1045.36 1250.01 L1057.29 1249.57 L1069.22 1249.91 L1081.15 1250.35 L1093.08 1250.37 L1105.02 1250.12 L1116.95 1253.64 L1128.88 1260.14 L1140.81 1265.75 L1140.81 1288.62 L1128.88 1280.62 L1116.95 1270.68 L1105.02 1265.19 L1093.08 1265.51 L1081.15 1265.49 L1069.22 1265.12 L1057.29 1264.88 L1045.36 1265.41 L1033.42 1264.75 L1021.49 1262.12 L1009.56 1260.31 L997.63 1256.96 L985.7 1252.69 L973.76 1250.51 L961.83 1249.98 L949.9 1254.05 L937.97 1256.41 L926.04 1257.2 L914.1 1257.79 L902.17 1257.96 L890.24 1257.86 L878.31 1260.99 L866.38 1262.06 L854.44 1262.93 L842.51 1263.39 L830.58 1266.54 L818.65 1267.99 L806.72 1272.33 L794.78 1279.65 L782.85 1288.37 L770.92 1298.03 L758.99 1303.71 L747.06 1307.1 L735.12 1307.46 L723.19 1308.29 L711.26 1311.49 L699.33 1314.14 L687.4 1316.93 L675.46 1321.48 L663.53 1327.71 L651.6 1333.48 L639.67 1341.02 L627.74 1348.92 L615.8 1355.12 L603.87 1363.2 L591.94 1369.57 L580.01 1372.09 L568.08 1375.25 L556.14 1378.86 L544.21 1381.81 L532.28 1383.76 L520.35 1385.11 L508.42 1385.4 L496.48 1383.13 L484.55 1378.93 L472.62 1376.24 L460.69 1372.27 L448.76 1366.79 L436.82 1363.78 L424.89 1362.7 L412.96 1363.81 L401.03 1364.3 L389.1 1363.9 L377.16 1363.33 L365.23 1359.32 L353.3 1357.04 L341.37 1355.18 L329.44 1352.57 L317.5 1350.69 L305.57 1350.62 L293.64 1349.57 L281.71 1348.61 L269.78 1349.22 L257.84 1351.62 L245.91 1352.01 L233.98 1351.79 L222.05 1350.78 L210.12 1352.91 L198.18 1354.99 L186.25 1358.04 L174.32 1360.97 L162.39 1361.45 L150.46 1360.61 L138.52 1359.25 L126.59 1358.81 L114.66 1358.78 L102.73 1360.01 L90.8 1361.13 L78.86 1358.67 L66.93 1354.99 L55 1353.59 Z" fill="#2a7f9e" fill-opacity="0.22" stroke="none" clip-path="url(#c3)"/>
<path d="M55 1300.87 L66.93 1301.8 L78.86 1301.6 L90.8 1301.79 L102.73 1301.71 L114.66 1301.62 L126.59 1302.03 L138.52 1302.66 L150.46 1303.82 L162.39 1304.19 L174.32 1306.55 L186.25 1310.43 L198.18 1315.43 L210.12 1319.03 L222.05 1322.29 L233.98 1323.49 L245.91 1324.66 L257.84 1325.5 L269.78 1325.56 L281.71 1325.83 L293.64 1325.96 L305.57 1326.58 L317.5 1326.56 L329.44 1326.23 L341.37 1326.78 L353.3 1327.41 L365.23 1329.18 L377.16 1330.28 L389.1 1330.98 L401.03 1331.76 L412.96 1332.64 L424.89 1333.88 L436.82 1332.53 L448.76 1329.45 L460.69 1323.8 L472.62 1317.92 L484.55 1313.35 L496.48 1306.63 L508.42 1301.67 L520.35 1298.23 L532.28 1295.63 L544.21 1293.87 L556.14 1291.16 L568.08 1287.92 L580.01 1283.35 L591.94 1277.59 L603.87 1273.6 L615.8 1268.55 L627.74 1264.31 L639.67 1260.98 L651.6 1258.9 L663.53 1254.64 L675.46 1251.67 L687.4 1248.86 L699.33 1246.86 L711.26 1245.7 L723.19 1244.63 L735.12 1242.62 L747.06 1238.64 L758.99 1235.51 L770.92 1232.81 L782.85 1231.4 L794.78 1231.37 L806.72 1230.57 L818.65 1230.55 L830.58 1228.99 L842.51 1227.96 L854.44 1227.12 L866.38 1226.97 L878.31 1226.75 L890.24 1226.02 L902.17 1225.08 L914.1 1223.45 L926.04 1222.03 L937.97 1219.25 L949.9 1216.06 L961.83 1216.75 L973.76 1216.67 L985.7 1217.01 L997.63 1216.95 L1009.56 1217.45 L1021.49 1218.35 L1033.42 1218.49 L1045.36 1219.21 L1057.29 1218.95 L1069.22 1219.49 L1081.15 1220.07 L1093.08 1220.11 L1105.02 1219.98 L1116.95 1219.56 L1128.88 1219.18 L1140.81 1220.01 L1140.81 1265.75 L1128.88 1260.14 L1116.95 1253.64 L1105.02 1250.12 L1093.08 1250.37 L1081.15 1250.35 L1069.22 1249.91 L1057.29 1249.57 L1045.36 1250.01 L1033.42 1249.33 L1021.49 1247.53 L1009.56 1246.02 L997.63 1243.63 L985.7 1240.8 L973.76 1239.23 L961.83 1238.9 L949.9 1241.39 L937.97 1244.02 L926.04 1245.48 L914.1 1246.34 L902.17 1247 L890.24 1247.24 L878.31 1249.58 L866.38 1250.36 L854.44 1250.99 L842.51 1251.58 L830.58 1254.03 L818.65 1255.51 L806.72 1258.41 L794.78 1263.56 L782.85 1269.38 L770.92 1276.29 L758.99 1280.97 L747.06 1284.28 L735.12 1285.85 L723.19 1287.07 L711.26 1289.56 L699.33 1291.71 L687.4 1294.24 L675.46 1298.21 L663.53 1303.35 L651.6 1308.62 L639.67 1314.34 L627.74 1320.72 L615.8 1326.26 L603.87 1333.33 L591.94 1338.91 L580.01 1342.51 L568.08 1346.14 L556.14 1349.63 L544.21 1352.5 L532.28 1354.38 L520.35 1356.15 L508.42 1357.49 L496.48 1357.63 L484.55 1357.07 L472.62 1356.8 L460.69 1356.12 L448.76 1354.34 L436.82 1353.36 L424.89 1353.09 L412.96 1353.42 L401.03 1353.46 L389.1 1352.93 L377.16 1352.31 L365.23 1349.27 L353.3 1347.16 L341.37 1345.71 L329.44 1343.79 L317.5 1342.65 L305.57 1342.61 L293.64 1341.7 L281.71 1341.02 L269.78 1341.33 L257.84 1342.91 L245.91 1342.9 L233.98 1342.36 L222.05 1341.29 L210.12 1341.62 L198.18 1341.81 L186.25 1342.17 L174.32 1342.83 L162.39 1342.36 L150.46 1341.68 L138.52 1340.39 L126.59 1339.88 L114.66 1339.72 L102.73 1340.58 L90.8 1341.35 L78.86 1339.65 L66.93 1337.26 L55 1336.02 Z" fill="#2aa196" fill-opacity="0.23" stroke="none" clip-path="url(#c3)"/>
<g class="grid"><line x1="293.5" y1="1450.5" x2="293.5" y2="987.5" stroke-opacity="0.19"/><line x1="532.5" y1="1450.5" x2="532.5" y2="987.5" stroke-opacity="0.28"/><line x1="770.5" y1="1450.5" x2="770.5" y2="987.5" stroke-opacity="0.075"/><line x1="1009.5" y1="1450.5" x2="1009.5" y2="987.5" stroke-opacity="0.28"/><line x1="1248.5" y1="1450.5" x2="1248.5" y2="987.5" stroke-opacity="0.1"/><line x1="55.5" y1="1383.5" x2="1474.5" y2="1383.5" stroke-opacity="0.1"/><line x1="55.5" y1="1317.5" x2="1474.5" y2="1317.5" stroke-opacity="0.19"/><line x1="55.5" y1="1251.5" x2="1474.5" y2="1251.5" stroke-opacity="0.28"/><line x1="55.5" y1="1185.5" x2="1474.5" y2="1185.5" stroke-opacity="0.28"/><line x1="55.5" y1="1119.5" x2="1474.5" y2="1119.5" stroke-opacity="0.1"/><line x1="55.5" y1="1053.5" x2="1474.5" y2="1053.5" stroke-opacity="0.19"/></g><g class="grid gb"><line x1="293.5" y1="1450.5" x2="293.5" y2="987.5" stroke-opacity="0.23"/><line x1="532.5" y1="1450.5" x2="532.5" y2="987.5" stroke-opacity="0.34"/><line x1="770.5" y1="1450.5" x2="770.5" y2="987.5" stroke-opacity="0.09"/><line x1="1009.5" y1="1450.5" x2="1009.5" y2="987.5" stroke-opacity="0.34"/><line x1="1248.5" y1="1450.5" x2="1248.5" y2="987.5" stroke-opacity="0.12"/><line x1="55.5" y1="1383.5" x2="1474.5" y2="1383.5" stroke-opacity="0.12"/><line x1="55.5" y1="1317.5" x2="1474.5" y2="1317.5" stroke-opacity="0.23"/><line x1="55.5" y1="1251.5" x2="1474.5" y2="1251.5" stroke-opacity="0.34"/><line x1="55.5" y1="1185.5" x2="1474.5" y2="1185.5" stroke-opacity="0.34"/><line x1="55.5" y1="1119.5" x2="1474.5" y2="1119.5" stroke-opacity="0.12"/><line x1="55.5" y1="1053.5" x2="1474.5" y2="1053.5" stroke-opacity="0.23"/></g>
<path d="M55 1265.73 L66.93 1266.34 L78.86 1263.55 L90.8 1262.23 L102.73 1262.84 L114.66 1263.51 L126.59 1264.17 L138.52 1264.93 L150.46 1265.97 L162.39 1266.01 L174.32 1270.27 L186.25 1278.7 L198.18 1289.06 L210.12 1296.44 L222.05 1303.3 L233.98 1304.63 L245.91 1306.43 L257.84 1308.08 L269.78 1309.79 L281.71 1310.65 L293.64 1310.22 L305.57 1310.55 L317.5 1310.48 L329.44 1308.68 L341.37 1307.85 L353.3 1307.65 L365.23 1309.09 L377.16 1308.24 L389.1 1309.03 L401.03 1310.07 L412.96 1311.87 L424.89 1314.67 L436.82 1311.7 L448.76 1304.57 L460.69 1291.49 L472.62 1279.04 L484.55 1269.63 L496.48 1255.63 L508.42 1245.85 L520.35 1240.31 L532.28 1236.88 L544.21 1235.25 L556.14 1232.7 L568.08 1229.71 L580.01 1224.19 L591.94 1216.27 L603.87 1213.86 L615.8 1210.83 L627.74 1207.9 L639.67 1207.62 L651.6 1209.18 L663.53 1205.93 L675.46 1205.13 L687.4 1203.48 L699.33 1202 L711.26 1201.83 L723.19 1202.18 L735.12 1199.39 L747.06 1193.01 L758.99 1190.04 L770.92 1189.33 L782.85 1193.43 L794.78 1199.18 L806.72 1202.73 L818.65 1205.59 L830.58 1203.95 L842.51 1204.35 L854.44 1203.24 L866.38 1203.57 L878.31 1203.93 L890.24 1204.8 L902.17 1203.17 L914.1 1200.56 L926.04 1198.58 L937.97 1194.49 L949.9 1190.74 L961.83 1194.59 L973.76 1194.11 L985.7 1193.22 L997.63 1190.28 L1009.56 1188.87 L1021.49 1189.18 L1033.42 1187.65 L1045.36 1188.42 L1057.29 1188.33 L1069.22 1189.07 L1081.15 1189.78 L1093.08 1189.84 L1105.02 1189.84 L1116.95 1185.47 L1128.88 1178.22 L1140.81 1174.27" fill="none" stroke="#2b4a8b" stroke-width="1.2" clip-path="url(#c3)" stroke-linejoin="round" stroke-linecap="square" />
<path d="M55 1371.16 L66.93 1372.72 L78.86 1377.69 L90.8 1380.91 L102.73 1379.44 L114.66 1377.83 L126.59 1377.74 L138.52 1378.12 L150.46 1379.54 L162.39 1380.53 L174.32 1379.11 L186.25 1373.91 L198.18 1368.18 L210.12 1364.21 L222.05 1360.28 L233.98 1361.22 L245.91 1361.13 L257.84 1360.33 L269.78 1357.11 L281.71 1356.2 L293.64 1357.44 L305.57 1358.63 L317.5 1358.74 L329.44 1361.35 L341.37 1364.65 L353.3 1366.91 L365.23 1369.36 L377.16 1374.35 L389.1 1374.87 L401.03 1375.15 L412.96 1374.2 L424.89 1372.31 L436.82 1374.19 L448.76 1379.23 L460.69 1388.43 L472.62 1395.68 L484.55 1400.78 L496.48 1408.63 L508.42 1413.31 L520.35 1414.07 L532.28 1413.13 L544.21 1411.13 L556.14 1408.1 L568.08 1404.36 L580.01 1401.67 L591.94 1400.23 L603.87 1393.07 L615.8 1383.98 L627.74 1377.13 L639.67 1367.69 L651.6 1358.34 L663.53 1352.07 L675.46 1344.75 L687.4 1339.62 L699.33 1336.57 L711.26 1333.43 L723.19 1329.52 L735.12 1329.07 L747.06 1329.92 L758.99 1326.44 L770.92 1319.77 L782.85 1307.36 L794.78 1295.75 L806.72 1286.25 L818.65 1280.47 L830.58 1279.06 L842.51 1275.2 L854.44 1274.87 L866.38 1273.76 L878.31 1272.4 L890.24 1268.47 L902.17 1268.92 L914.1 1269.23 L926.04 1268.93 L937.97 1268.79 L949.9 1266.71 L961.83 1261.05 L973.76 1261.79 L985.7 1264.59 L997.63 1270.3 L1009.56 1274.6 L1021.49 1276.71 L1033.42 1280.17 L1045.36 1280.8 L1057.29 1280.19 L1069.22 1280.33 L1081.15 1280.64 L1093.08 1280.64 L1105.02 1280.26 L1116.95 1287.72 L1128.88 1301.1 L1140.81 1311.49" fill="none" stroke="#2b4a8b" stroke-width="1.2" clip-path="url(#c3)" stroke-linejoin="round" stroke-linecap="square" />
<path d="M55 1283.3 L66.93 1284.07 L78.86 1282.58 L90.8 1282.01 L102.73 1282.28 L114.66 1282.56 L126.59 1283.1 L138.52 1283.79 L150.46 1284.89 L162.39 1285.1 L174.32 1288.41 L186.25 1294.56 L198.18 1302.25 L210.12 1307.74 L222.05 1312.8 L233.98 1314.06 L245.91 1315.54 L257.84 1316.79 L269.78 1317.67 L281.71 1318.24 L293.64 1318.09 L305.57 1318.57 L317.5 1318.52 L329.44 1317.45 L341.37 1317.32 L353.3 1317.53 L365.23 1319.13 L377.16 1319.26 L389.1 1320.01 L401.03 1320.91 L412.96 1322.26 L424.89 1324.27 L436.82 1322.11 L448.76 1317.01 L460.69 1307.65 L472.62 1298.48 L484.55 1291.49 L496.48 1281.13 L508.42 1273.76 L520.35 1269.27 L532.28 1266.25 L544.21 1264.56 L556.14 1261.93 L568.08 1258.82 L580.01 1253.77 L591.94 1246.93 L603.87 1243.73 L615.8 1239.69 L627.74 1236.11 L639.67 1234.3 L651.6 1234.04 L663.53 1230.29 L675.46 1228.4 L687.4 1226.17 L699.33 1224.43 L711.26 1223.76 L723.19 1223.4 L735.12 1221.01 L747.06 1215.83 L758.99 1212.77 L770.92 1211.07 L782.85 1212.42 L794.78 1215.27 L806.72 1216.65 L818.65 1218.07 L830.58 1216.47 L842.51 1216.16 L854.44 1215.18 L866.38 1215.27 L878.31 1215.34 L890.24 1215.41 L902.17 1214.13 L914.1 1212.01 L926.04 1210.3 L937.97 1206.87 L949.9 1203.4 L961.83 1205.67 L973.76 1205.39 L985.7 1205.12 L997.63 1203.62 L1009.56 1203.16 L1021.49 1203.76 L1033.42 1203.07 L1045.36 1203.82 L1057.29 1203.64 L1069.22 1204.28 L1081.15 1204.92 L1093.08 1204.98 L1105.02 1204.91 L1116.95 1202.52 L1128.88 1198.7 L1140.81 1197.14" fill="none" stroke="#2a6f9b" stroke-width="1.2" clip-path="url(#c3)" stroke-linejoin="round" stroke-linecap="square" />
<path d="M55 1353.59 L66.93 1354.99 L78.86 1358.67 L90.8 1361.13 L102.73 1360.01 L114.66 1358.78 L126.59 1358.81 L138.52 1359.25 L150.46 1360.61 L162.39 1361.45 L174.32 1360.97 L186.25 1358.04 L198.18 1354.99 L210.12 1352.91 L222.05 1350.78 L233.98 1351.79 L245.91 1352.01 L257.84 1351.62 L269.78 1349.22 L281.71 1348.61 L293.64 1349.57 L305.57 1350.62 L317.5 1350.69 L329.44 1352.57 L341.37 1355.18 L353.3 1357.04 L365.23 1359.32 L377.16 1363.33 L389.1 1363.9 L401.03 1364.3 L412.96 1363.81 L424.89 1362.7 L436.82 1363.78 L448.76 1366.79 L460.69 1372.27 L472.62 1376.24 L484.55 1378.93 L496.48 1383.13 L508.42 1385.4 L520.35 1385.11 L532.28 1383.76 L544.21 1381.81 L556.14 1378.86 L568.08 1375.25 L580.01 1372.09 L591.94 1369.57 L603.87 1363.2 L615.8 1355.12 L627.74 1348.92 L639.67 1341.02 L651.6 1333.48 L663.53 1327.71 L675.46 1321.48 L687.4 1316.93 L699.33 1314.14 L711.26 1311.49 L723.19 1308.29 L735.12 1307.46 L747.06 1307.1 L758.99 1303.71 L770.92 1298.03 L782.85 1288.37 L794.78 1279.65 L806.72 1272.33 L818.65 1267.99 L830.58 1266.54 L842.51 1263.39 L854.44 1262.93 L866.38 1262.06 L878.31 1260.99 L890.24 1257.86 L902.17 1257.96 L914.1 1257.79 L926.04 1257.2 L937.97 1256.41 L949.9 1254.05 L961.83 1249.98 L973.76 1250.51 L985.7 1252.69 L997.63 1256.96 L1009.56 1260.31 L1021.49 1262.12 L1033.42 1264.75 L1045.36 1265.41 L1057.29 1264.88 L1069.22 1265.12 L1081.15 1265.49 L1093.08 1265.51 L1105.02 1265.19 L1116.95 1270.68 L1128.88 1280.62 L1140.81 1288.62" fill="none" stroke="#2a6f9b" stroke-width="1.2" clip-path="url(#c3)" stroke-linejoin="round" stroke-linecap="square" />
<path d="M55 1300.87 L66.93 1301.8 L78.86 1301.6 L90.8 1301.79 L102.73 1301.71 L114.66 1301.62 L126.59 1302.03 L138.52 1302.66 L150.46 1303.82 L162.39 1304.19 L174.32 1306.55 L186.25 1310.43 L198.18 1315.43 L210.12 1319.03 L222.05 1322.29 L233.98 1323.49 L245.91 1324.66 L257.84 1325.5 L269.78 1325.56 L281.71 1325.83 L293.64 1325.96 L305.57 1326.58 L317.5 1326.56 L329.44 1326.23 L341.37 1326.78 L353.3 1327.41 L365.23 1329.18 L377.16 1330.28 L389.1 1330.98 L401.03 1331.76 L412.96 1332.64 L424.89 1333.88 L436.82 1332.53 L448.76 1329.45 L460.69 1323.8 L472.62 1317.92 L484.55 1313.35 L496.48 1306.63 L508.42 1301.67 L520.35 1298.23 L532.28 1295.63 L544.21 1293.87 L556.14 1291.16 L568.08 1287.92 L580.01 1283.35 L591.94 1277.59 L603.87 1273.6 L615.8 1268.55 L627.74 1264.31 L639.67 1260.98 L651.6 1258.9 L663.53 1254.64 L675.46 1251.67 L687.4 1248.86 L699.33 1246.86 L711.26 1245.7 L723.19 1244.63 L735.12 1242.62 L747.06 1238.64 L758.99 1235.51 L770.92 1232.81 L782.85 1231.4 L794.78 1231.37 L806.72 1230.57 L818.65 1230.55 L830.58 1228.99 L842.51 1227.96 L854.44 1227.12 L866.38 1226.97 L878.31 1226.75 L890.24 1226.02 L902.17 1225.08 L914.1 1223.45 L926.04 1222.03 L937.97 1219.25 L949.9 1216.06 L961.83 1216.75 L973.76 1216.67 L985.7 1217.01 L997.63 1216.95 L1009.56 1217.45 L1021.49 1218.35 L1033.42 1218.49 L1045.36 1219.21 L1057.29 1218.95 L1069.22 1219.49 L1081.15 1220.07 L1093.08 1220.11 L1105.02 1219.98 L1116.95 1219.56 L1128.88 1219.18 L1140.81 1220.01" fill="none" stroke="#21958d" stroke-width="1.2" clip-path="url(#c3)" stroke-linejoin="round" stroke-linecap="square" />
<path d="M55 1336.02 L66.93 1337.26 L78.86 1339.65 L90.8 1341.35 L102.73 1340.58 L114.66 1339.72 L126.59 1339.88 L138.52 1340.39 L150.46 1341.68 L162.39 1342.36 L174.32 1342.83 L186.25 1342.17 L198.18 1341.81 L210.12 1341.62 L222.05 1341.29 L233.98 1342.36 L245.91 1342.9 L257.84 1342.91 L269.78 1341.33 L281.71 1341.02 L293.64 1341.7 L305.57 1342.61 L317.5 1342.65 L329.44 1343.79 L341.37 1345.71 L353.3 1347.16 L365.23 1349.27 L377.16 1352.31 L389.1 1352.93 L401.03 1353.46 L412.96 1353.42 L424.89 1353.09 L436.82 1353.36 L448.76 1354.34 L460.69 1356.12 L472.62 1356.8 L484.55 1357.07 L496.48 1357.63 L508.42 1357.49 L520.35 1356.15 L532.28 1354.38 L544.21 1352.5 L556.14 1349.63 L568.08 1346.14 L580.01 1342.51 L591.94 1338.91 L603.87 1333.33 L615.8 1326.26 L627.74 1320.72 L639.67 1314.34 L651.6 1308.62 L663.53 1303.35 L675.46 1298.21 L687.4 1294.24 L699.33 1291.71 L711.26 1289.56 L723.19 1287.07 L735.12 1285.85 L747.06 1284.28 L758.99 1280.97 L770.92 1276.29 L782.85 1269.38 L794.78 1263.56 L806.72 1258.41 L818.65 1255.51 L830.58 1254.03 L842.51 1251.58 L854.44 1250.99 L866.38 1250.36 L878.31 1249.58 L890.24 1247.24 L902.17 1247 L914.1 1246.34 L926.04 1245.48 L937.97 1244.02 L949.9 1241.39 L961.83 1238.9 L973.76 1239.23 L985.7 1240.8 L997.63 1243.63 L1009.56 1246.02 L1021.49 1247.53 L1033.42 1249.33 L1045.36 1250.01 L1057.29 1249.57 L1069.22 1249.91 L1081.15 1250.35 L1093.08 1250.37 L1105.02 1250.12 L1116.95 1253.64 L1128.88 1260.14 L1140.81 1265.75" fill="none" stroke="#21958d" stroke-width="1.2" clip-path="url(#c3)" stroke-linejoin="round" stroke-linecap="square" />
<path d="M55 1318.45 L66.93 1319.53 L78.86 1320.62 L90.8 1321.57 L102.73 1321.14 L114.66 1320.67 L126.59 1320.95 L138.52 1321.52 L150.46 1322.75 L162.39 1323.27 L174.32 1324.69 L186.25 1326.3 L198.18 1328.62 L210.12 1330.32 L222.05 1331.79 L233.98 1332.93 L245.91 1333.78 L257.84 1334.2 L269.78 1333.45 L281.71 1333.42 L293.64 1333.83 L305.57 1334.59 L317.5 1334.61 L329.44 1335.01 L341.37 1336.25 L353.3 1337.28 L365.23 1339.23 L377.16 1341.3 L389.1 1341.95 L401.03 1342.61 L412.96 1343.03 L424.89 1343.49 L436.82 1342.94 L448.76 1341.9 L460.69 1339.96 L472.62 1337.36 L484.55 1335.21 L496.48 1332.13 L508.42 1329.58 L520.35 1327.19 L532.28 1325.01 L544.21 1323.19 L556.14 1320.4 L568.08 1317.03 L580.01 1312.93 L591.94 1308.25 L603.87 1303.46 L615.8 1297.41 L627.74 1292.51 L639.67 1287.66 L651.6 1283.76 L663.53 1279 L675.46 1274.94 L687.4 1271.55 L699.33 1269.28 L711.26 1267.63 L723.19 1265.85 L735.12 1264.23 L747.06 1261.46 L758.99 1258.24 L770.92 1254.55 L782.85 1250.39 L794.78 1247.46 L806.72 1244.49 L818.65 1243.03 L830.58 1241.51 L842.51 1239.77 L854.44 1239.06 L866.38 1238.66 L878.31 1238.17 L890.24 1236.63 L902.17 1236.04 L914.1 1234.9 L926.04 1233.75 L937.97 1231.64 L949.9 1228.72 L961.83 1227.82 L973.76 1227.95 L985.7 1228.9 L997.63 1230.29 L1009.56 1231.73 L1021.49 1232.94 L1033.42 1233.91 L1045.36 1234.61 L1057.29 1234.26 L1069.22 1234.7 L1081.15 1235.21 L1093.08 1235.24 L1105.02 1235.05 L1116.95 1236.6 L1128.88 1239.66 L1140.81 1242.88" fill="none" stroke="#8c2f2f" stroke-width="1.25" clip-path="url(#c3)" stroke-linejoin="round" stroke-linecap="square" />
<g stroke-width="1" fill="none"><line x1="55.5" y1="987.5" x2="55.5" y2="1450.5" stroke="#909090" stroke-width=".85"/><line x1="1474.5" y1="987.5" x2="1474.5" y2="1450.5" stroke="#c6c6c6"/><line x1="55" y1="987.5" x2="1475" y2="987.5" stroke="#333"/><line x1="55" y1="1450.5" x2="1475" y2="1450.5" stroke="#cfcfcf"/></g>
<g class="tick xt"><line x1="55.5" y1="1451" x2="55.5" y2="1453.5"/><line x1="293.5" y1="1451" x2="293.5" y2="1453.5"/><line x1="532.5" y1="1451" x2="532.5" y2="1453.5"/><line x1="770.5" y1="1451" x2="770.5" y2="1453.5"/><line x1="1009.5" y1="1451" x2="1009.5" y2="1453.5"/><line x1="1248.5" y1="1451" x2="1248.5" y2="1453.5"/></g>
<g class="tick"><line x1="1475" y1="1449.5" x2="1477.5" y2="1449.5"/><line x1="1475" y1="1383.5" x2="1477.5" y2="1383.5"/><line x1="1475" y1="1317.5" x2="1477.5" y2="1317.5"/><line x1="1475" y1="1251.5" x2="1477.5" y2="1251.5"/><line x1="1475" y1="1185.5" x2="1477.5" y2="1185.5"/><line x1="1475" y1="1119.5" x2="1477.5" y2="1119.5"/><line x1="1475" y1="1053.5" x2="1477.5" y2="1053.5"/></g>
<g class="tl"><text x="1479.2" y="1457.7" textLength="102.05" lengthAdjust="spacingAndGlyphs">2,000,000</text><text x="1479.2" y="1391.7" textLength="102.05" lengthAdjust="spacingAndGlyphs">3,000,000</text><text x="1479.2" y="1325.7" textLength="102.05" lengthAdjust="spacingAndGlyphs">4,000,000</text><text x="1479.2" y="1259.7" textLength="102.05" lengthAdjust="spacingAndGlyphs">5,000,000</text><text x="1479.2" y="1193.7" textLength="102.05" lengthAdjust="spacingAndGlyphs">6,000,000</text><text x="1479.2" y="1127.7" textLength="102.05" lengthAdjust="spacingAndGlyphs">7,000,000</text><text x="1479.2" y="1061.7" textLength="102.05" lengthAdjust="spacingAndGlyphs">8,000,000</text></g>
<text font-size="20.8" transform="translate(49.6 1221.2) rotate(-90)" text-anchor="middle" >ボリンジャーバンド</text>
<rect x="789.7" y="997.8" width="675.6" height="33.8" rx="4" ry="4" fill="#fff" fill-opacity="0.8" stroke="#e4e4e4" stroke-width="1"/>
<line x1="796.1" y1="1012.7" x2="836.7" y2="1012.7" stroke="#8c2f2f" stroke-width="1.2"/>
<text class="lg" x="853" y="1021" >センターライン（20）</text>
<line x1="1094" y1="1012.7" x2="1134.6" y2="1012.7" stroke="#218c8d" stroke-width="1.2"/>
<text x="1150.3" y="1021.1" class="lg lgl" letter-spacing="0.5">±1<tspan dx="6.5" font-size="18.5" font-style="italic">σ</tspan></text>
<line x1="1234.3" y1="1012.7" x2="1274.9" y2="1012.7" stroke="#2a6f9b" stroke-width="1.2"/>
<text x="1291" y="1021.1" class="lg lgl" letter-spacing="0.5">±2<tspan dx="6.5" font-size="18.5" font-style="italic">σ</tspan></text>
<line x1="1374.9" y1="1012.7" x2="1415.5" y2="1012.7" stroke="#2b4a8b" stroke-width="1.2"/>
<text x="1431.3" y="1021.1" class="lg lgl" letter-spacing="0.5">±3</text>
<rect x="55.5" y="1479.5" width="1419" height="69" fill="#c0e5dd"/>
<rect x="55.5" y="1640.5" width="1419" height="70" fill="#f4d0d7"/>
<g class="grid"><line x1="293.5" y1="1710.5" x2="293.5" y2="1479.5" stroke-opacity="0.19"/><line x1="532.5" y1="1710.5" x2="532.5" y2="1479.5" stroke-opacity="0.28"/><line x1="770.5" y1="1710.5" x2="770.5" y2="1479.5" stroke-opacity="0.075"/><line x1="1009.5" y1="1710.5" x2="1009.5" y2="1479.5" stroke-opacity="0.28"/><line x1="1248.5" y1="1710.5" x2="1248.5" y2="1479.5" stroke-opacity="0.1"/><line x1="55.5" y1="1664.5" x2="1474.5" y2="1664.5" stroke-opacity="0.28"/><line x1="55.5" y1="1617.5" x2="1474.5" y2="1617.5" stroke-opacity="0.05"/><line x1="55.5" y1="1571.5" x2="1474.5" y2="1571.5" stroke-opacity="0.28"/><line x1="55.5" y1="1525.5" x2="1474.5" y2="1525.5" stroke-opacity="0.19"/></g><g class="grid gb"><line x1="293.5" y1="1710.5" x2="293.5" y2="1479.5" stroke-opacity="0.23"/><line x1="532.5" y1="1710.5" x2="532.5" y2="1479.5" stroke-opacity="0.34"/><line x1="770.5" y1="1710.5" x2="770.5" y2="1479.5" stroke-opacity="0.09"/><line x1="1009.5" y1="1710.5" x2="1009.5" y2="1479.5" stroke-opacity="0.34"/><line x1="1248.5" y1="1710.5" x2="1248.5" y2="1479.5" stroke-opacity="0.12"/><line x1="55.5" y1="1664.5" x2="1474.5" y2="1664.5" stroke-opacity="0.34"/><line x1="55.5" y1="1617.5" x2="1474.5" y2="1617.5" stroke-opacity="0.06"/><line x1="55.5" y1="1571.5" x2="1474.5" y2="1571.5" stroke-opacity="0.34"/><line x1="55.5" y1="1525.5" x2="1474.5" y2="1525.5" stroke-opacity="0.23"/></g>
<line x1="55.5" y1="1548.5" x2="1474.5" y2="1548.5" stroke="#d98686" stroke-width="1.2"/>
<line x1="55.5" y1="1640.5" x2="1474.5" y2="1640.5" stroke="#4fb0a4" stroke-width="1.4"/>
<path d="M55 1613.25 L66.93 1607.5 L78.86 1621.45 L90.8 1616.96 L102.73 1602.43 L114.66 1603.81 L126.59 1595.33 L138.52 1598.94 L150.46 1606.63 L162.39 1606.07 L174.32 1600.22 L186.25 1595.28 L198.18 1605.88 L210.12 1603.16 L222.05 1605.42 L233.98 1613.35 L245.91 1604.85 L257.84 1606.72 L269.78 1600.52 L281.71 1608.41 L293.64 1610.77 L305.57 1611.35 L317.5 1618.76 L329.44 1621.61 L341.37 1620.68 L353.3 1617.19 L365.23 1625.73 L377.16 1632.82 L389.1 1604.2 L401.03 1603.29 L412.96 1589.3 L424.89 1583.88 L436.82 1575.12 L448.76 1562.96 L460.69 1551.09 L472.62 1548.2 L484.55 1550.5 L496.48 1539.67 L508.42 1547.9 L520.35 1564.64 L532.28 1573.17 L544.21 1583.2 L556.14 1571.93 L568.08 1564.9 L580.01 1553.94 L591.94 1545.86 L603.87 1553.31 L615.8 1543.02 L627.74 1549.78 L639.67 1549.87 L651.6 1561.37 L663.53 1547.64 L675.46 1555.51 L687.4 1556.33 L699.33 1565.72 L711.26 1575.4 L723.19 1574.49 L735.12 1563.65 L747.06 1551.53 L758.99 1554.53 L770.92 1552.55 L782.85 1551.49 L794.78 1569.13 L806.72 1561.69 L818.65 1580.09 L830.58 1568.21 L842.51 1569.73 L854.44 1572.51 L866.38 1586.37 L878.31 1584.34 L890.24 1573.04 L902.17 1570.35 L914.1 1566.11 L926.04 1567.14 L937.97 1556.82 L949.9 1550.83 L961.83 1596.64 L973.76 1602.86 L985.7 1601.48 L997.63 1610.74 L1009.56 1608.74 L1021.49 1601.89 L1033.42 1608.84 L1045.36 1593.56 L1057.29 1587.58 L1069.22 1588.72 L1081.15 1591.65 L1093.08 1583.97 L1105.02 1592.47 L1116.95 1621.68 L1128.88 1633.04 L1140.81 1633.04" fill="none" stroke="#ffa500" stroke-width="2.7" clip-path="url(#c4)" stroke-linejoin="round" stroke-linecap="square" />
<g stroke-width="1" fill="none"><line x1="55.5" y1="1479.5" x2="55.5" y2="1710.5" stroke="#909090" stroke-width=".85"/><line x1="1474.5" y1="1479.5" x2="1474.5" y2="1710.5" stroke="#c6c6c6"/><line x1="55" y1="1479.5" x2="1475" y2="1479.5" stroke="#222"/><line x1="55" y1="1710.5" x2="1475" y2="1710.5" stroke="#6a5a60"/></g>
<g class="tick xt" style="stroke:#777"><line x1="55.5" y1="1711" x2="55.5" y2="1713.5"/><line x1="293.5" y1="1711" x2="293.5" y2="1713.5"/><line x1="532.5" y1="1711" x2="532.5" y2="1713.5"/><line x1="770.5" y1="1711" x2="770.5" y2="1713.5"/><line x1="1009.5" y1="1711" x2="1009.5" y2="1713.5"/><line x1="1248.5" y1="1711" x2="1248.5" y2="1713.5"/></g>
<g class="tick"><line x1="1475" y1="1710.5" x2="1477.5" y2="1710.5"/><line x1="1475" y1="1664.5" x2="1477.5" y2="1664.5"/><line x1="1475" y1="1617.5" x2="1477.5" y2="1617.5"/><line x1="1475" y1="1571.5" x2="1477.5" y2="1571.5"/><line x1="1475" y1="1525.5" x2="1477.5" y2="1525.5"/><line x1="1475" y1="1479.5" x2="1477.5" y2="1479.5"/></g>
<g class="tl"><text x="1479.2" y="1718.2" textLength="12.75" lengthAdjust="spacingAndGlyphs">0</text><text x="1479.2" y="1671.94" textLength="25.5" lengthAdjust="spacingAndGlyphs">20</text><text x="1479.2" y="1625.68" textLength="25.5" lengthAdjust="spacingAndGlyphs">40</text><text x="1479.2" y="1579.41" textLength="25.5" lengthAdjust="spacingAndGlyphs">60</text><text x="1479.2" y="1533.15" textLength="25.5" lengthAdjust="spacingAndGlyphs">80</text><text x="1479.2" y="1486.89" textLength="38.25" lengthAdjust="spacingAndGlyphs">100</text></g>
<text font-size="22.5" transform="translate(49.5 1597.7) rotate(-90)" text-anchor="middle" textLength="29.8" lengthAdjust="spacingAndGlyphs">RSI</text>
<rect x="1320" y="1489.1" width="145.3" height="34.3" rx="4" ry="4" fill="#fff" fill-opacity="0.8" stroke="none" stroke-width="1"/>
<line x1="1326.2" y1="1504.7" x2="1368.8" y2="1504.7" stroke="#ffa500" stroke-width="2.8"/>
<text x="1384" y="1512.8" font-size="20.6" textLength="71.3" lengthAdjust="spacingAndGlyphs">RSI (14)</text>
<g clip-path="url(#c5)"><rect x="51.5" y="1880.21" width="7.0" height="91.29" fill="#38a69a"/><rect x="63.43" y="1911.36" width="7.0" height="60.14" fill="#38a69a"/><rect x="75.36" y="1896.26" width="7.0" height="75.24" fill="#e27570"/><rect x="87.3" y="1891.54" width="7.0" height="79.96" fill="#38a69a"/><rect x="99.23" y="1896.64" width="7.0" height="74.86" fill="#38a69a"/><rect x="111.16" y="1909.85" width="7.0" height="61.65" fill="#e27570"/><rect x="123.09" y="1904.38" width="7.0" height="67.12" fill="#38a69a"/><rect x="135.02" y="1921.37" width="7.0" height="50.13" fill="#e27570"/><rect x="146.96" y="1926.27" width="7.0" height="45.23" fill="#e27570"/><rect x="158.89" y="1930.24" width="7.0" height="41.26" fill="#38a69a"/><rect x="170.82" y="1939.49" width="7.0" height="32.01" fill="#38a69a"/><rect x="182.75" y="1938.35" width="7.0" height="33.15" fill="#38a69a"/><rect x="194.68" y="1924.39" width="7.0" height="47.11" fill="#e27570"/><rect x="206.62" y="1935.71" width="7.0" height="35.79" fill="#38a69a"/><rect x="218.55" y="1943.45" width="7.0" height="28.05" fill="#e27570"/><rect x="230.48" y="1927.22" width="7.0" height="44.28" fill="#e27570"/><rect x="242.41" y="1946.09" width="7.0" height="25.41" fill="#38a69a"/><rect x="254.34" y="1952.32" width="7.0" height="19.18" fill="#e27570"/><rect x="266.28" y="1949.87" width="7.0" height="21.63" fill="#38a69a"/><rect x="278.21" y="1940.43" width="7.0" height="31.07" fill="#e27570"/><rect x="290.14" y="1946.28" width="7.0" height="25.22" fill="#e27570"/><rect x="302.07" y="1942.32" width="7.0" height="29.18" fill="#e27570"/><rect x="314" y="1943.26" width="7.0" height="28.24" fill="#e27570"/><rect x="325.94" y="1944.21" width="7.0" height="27.29" fill="#e27570"/><rect x="337.87" y="1949.57" width="7.0" height="21.93" fill="#38a69a"/><rect x="349.8" y="1949.57" width="7.0" height="21.93" fill="#38a69a"/><rect x="361.73" y="1935.73" width="7.0" height="35.77" fill="#e27570"/><rect x="373.66" y="1930.04" width="7.0" height="41.46" fill="#e27570"/><rect x="385.6" y="1924.91" width="7.0" height="46.59" fill="#38a69a"/><rect x="397.53" y="1945.78" width="7.0" height="25.72" fill="#38a69a"/><rect x="409.46" y="1940.47" width="7.0" height="31.03" fill="#38a69a"/><rect x="421.39" y="1938" width="7.0" height="33.5" fill="#38a69a"/><rect x="433.32" y="1932.88" width="7.0" height="38.62" fill="#38a69a"/><rect x="445.26" y="1827.03" width="7.0" height="144.47" fill="#38a69a"/><rect x="457.19" y="1910.5" width="7.0" height="61" fill="#38a69a"/><rect x="469.12" y="1897.41" width="7.0" height="74.09" fill="#38a69a"/><rect x="481.05" y="1929.09" width="7.0" height="42.41" fill="#e27570"/><rect x="492.98" y="1908.79" width="7.0" height="62.71" fill="#38a69a"/><rect x="504.92" y="1936.68" width="7.0" height="34.82" fill="#e27570"/><rect x="516.85" y="1930.99" width="7.0" height="40.51" fill="#e27570"/><rect x="528.78" y="1928.71" width="7.0" height="42.79" fill="#e27570"/><rect x="540.71" y="1931.36" width="7.0" height="40.14" fill="#e27570"/><rect x="552.64" y="1924.91" width="7.0" height="46.59" fill="#38a69a"/><rect x="564.58" y="1905" width="7.0" height="66.5" fill="#38a69a"/><rect x="576.51" y="1894.94" width="7.0" height="76.56" fill="#38a69a"/><rect x="588.44" y="1902.72" width="7.0" height="68.78" fill="#38a69a"/><rect x="600.37" y="1907.84" width="7.0" height="63.66" fill="#e27570"/><rect x="612.3" y="1891.15" width="7.0" height="80.35" fill="#38a69a"/><rect x="624.24" y="1926.24" width="7.0" height="45.26" fill="#e27570"/><rect x="636.17" y="1927" width="7.0" height="44.5" fill="#e27570"/><rect x="648.1" y="1921.12" width="7.0" height="50.38" fill="#e27570"/><rect x="660.03" y="1918.47" width="7.0" height="53.03" fill="#38a69a"/><rect x="671.96" y="1917.14" width="7.0" height="54.36" fill="#e27570"/><rect x="683.9" y="1919.03" width="7.0" height="52.47" fill="#e27570"/><rect x="695.83" y="1916.76" width="7.0" height="54.74" fill="#e27570"/><rect x="707.76" y="1923.97" width="7.0" height="47.53" fill="#e27570"/><rect x="719.69" y="1934.02" width="7.0" height="37.48" fill="#38a69a"/><rect x="731.62" y="1922.26" width="7.0" height="49.24" fill="#38a69a"/><rect x="743.56" y="1909.17" width="7.0" height="62.33" fill="#38a69a"/><rect x="755.49" y="1931.93" width="7.0" height="39.57" fill="#e27570"/><rect x="767.42" y="1935.16" width="7.0" height="36.34" fill="#38a69a"/><rect x="779.35" y="1919.6" width="7.0" height="51.9" fill="#38a69a"/><rect x="791.28" y="1929.09" width="7.0" height="42.41" fill="#e27570"/><rect x="803.22" y="1934.02" width="7.0" height="37.48" fill="#38a69a"/><rect x="815.15" y="1927.95" width="7.0" height="43.55" fill="#e27570"/><rect x="827.08" y="1929.85" width="7.0" height="41.65" fill="#38a69a"/><rect x="839.01" y="1950.14" width="7.0" height="21.36" fill="#e27570"/><rect x="850.94" y="1930.04" width="7.0" height="41.46" fill="#e27570"/><rect x="862.88" y="1938.95" width="7.0" height="32.55" fill="#e27570"/><rect x="874.81" y="1941.99" width="7.0" height="29.51" fill="#38a69a"/><rect x="886.74" y="1938" width="7.0" height="33.5" fill="#38a69a"/><rect x="898.67" y="1931.93" width="7.0" height="39.57" fill="#38a69a"/><rect x="910.6" y="1923.02" width="7.0" height="48.48" fill="#38a69a"/><rect x="922.54" y="1951.85" width="7.0" height="19.65" fill="#e27570"/><rect x="934.47" y="1944.83" width="7.0" height="26.67" fill="#38a69a"/><rect x="946.4" y="1927.57" width="7.0" height="43.93" fill="#38a69a"/><rect x="958.33" y="1855.68" width="7.0" height="115.82" fill="#e27570"/><rect x="970.26" y="1910.88" width="7.0" height="60.62" fill="#e27570"/><rect x="982.2" y="1938" width="7.0" height="33.5" fill="#38a69a"/><rect x="994.13" y="1930.99" width="7.0" height="40.51" fill="#e27570"/><rect x="1006.06" y="1956.02" width="7.0" height="15.48" fill="#38a69a"/><rect x="1017.99" y="1954.89" width="7.0" height="16.61" fill="#38a69a"/><rect x="1029.92" y="1920.93" width="7.0" height="50.57" fill="#e27570"/><rect x="1041.86" y="1947.11" width="7.0" height="24.39" fill="#38a69a"/><rect x="1053.79" y="1944.83" width="7.0" height="26.67" fill="#38a69a"/><rect x="1065.72" y="1949.01" width="7.0" height="22.49" fill="#e27570"/><rect x="1077.65" y="1944.26" width="7.0" height="27.24" fill="#e27570"/><rect x="1089.58" y="1945.78" width="7.0" height="25.72" fill="#38a69a"/><rect x="1101.52" y="1950.9" width="7.0" height="20.6" fill="#e27570"/><rect x="1113.45" y="1900.82" width="7.0" height="70.68" fill="#e27570"/><rect x="1125.38" y="1888.3" width="7.0" height="83.2" fill="#e27570"/><rect x="1137.31" y="1971.2" width="7.0" height="0.3" fill="#38a69a"/></g>
<g class="grid"><line x1="293.5" y1="1971.5" x2="293.5" y2="1740.5" stroke-opacity="0.19"/><line x1="532.5" y1="1971.5" x2="532.5" y2="1740.5" stroke-opacity="0.28"/><line x1="770.5" y1="1971.5" x2="770.5" y2="1740.5" stroke-opacity="0.075"/><line x1="1009.5" y1="1971.5" x2="1009.5" y2="1740.5" stroke-opacity="0.28"/><line x1="1248.5" y1="1971.5" x2="1248.5" y2="1740.5" stroke-opacity="0.1"/><line x1="55.5" y1="1893.5" x2="1474.5" y2="1893.5" stroke-opacity="0.1"/><line x1="55.5" y1="1816.5" x2="1474.5" y2="1816.5" stroke-opacity="0.1"/></g><g class="grid gb"><line x1="293.5" y1="1971.5" x2="293.5" y2="1740.5" stroke-opacity="0.23"/><line x1="532.5" y1="1971.5" x2="532.5" y2="1740.5" stroke-opacity="0.34"/><line x1="770.5" y1="1971.5" x2="770.5" y2="1740.5" stroke-opacity="0.09"/><line x1="1009.5" y1="1971.5" x2="1009.5" y2="1740.5" stroke-opacity="0.34"/><line x1="1248.5" y1="1971.5" x2="1248.5" y2="1740.5" stroke-opacity="0.12"/><line x1="55.5" y1="1893.5" x2="1474.5" y2="1893.5" stroke-opacity="0.12"/><line x1="55.5" y1="1816.5" x2="1474.5" y2="1816.5" stroke-opacity="0.12"/></g>
<path d="M55 1891.54 L66.93 1892.86 L78.86 1891.92 L90.8 1889.46 L102.73 1888.71 L114.66 1889.65 L126.59 1891.35 L138.52 1893.24 L150.46 1894.37 L162.39 1895.88 L174.32 1897.77 L186.25 1900.79 L198.18 1901.55 L210.12 1903.06 L222.05 1904.75 L233.98 1905.89 L245.91 1907.02 L257.84 1909.85 L269.78 1916.08 L281.71 1923.27 L293.64 1926.58 L305.57 1928.12 L317.5 1930.47 L329.44 1933.11 L341.37 1935.75 L353.3 1937.74 L365.23 1939.31 L377.16 1939.74 L389.1 1939.67 L401.03 1940.45 L412.96 1940.5 L424.89 1940.48 L436.82 1940.91 L448.76 1935.47 L460.69 1933.83 L472.62 1932.33 L484.55 1931.48 L496.48 1929.31 L508.42 1928.65 L520.35 1928.18 L532.28 1927.3 L544.21 1926.75 L556.14 1925.83 L568.08 1923.87 L580.01 1921.14 L591.94 1918.8 L603.87 1917.4 L615.8 1915.46 L627.74 1915.53 L639.67 1914.59 L651.6 1913.62 L663.53 1912.64 L675.46 1911.85 L687.4 1916.45 L699.33 1916.77 L711.26 1918.1 L723.19 1918.34 L735.12 1919.02 L747.06 1917.64 L758.99 1917.69 L770.92 1918.01 L782.85 1917.42 L794.78 1917.63 L806.72 1919.08 L818.65 1920.73 L830.58 1922.09 L842.51 1924.2 L854.44 1926.15 L866.38 1926.78 L878.31 1927.53 L890.24 1928.38 L902.17 1929.05 L914.1 1929.34 L926.04 1930.99 L937.97 1932.39 L949.9 1932.57 L961.83 1928.65 L973.76 1928.08 L985.7 1929.52 L997.63 1929.48 L1009.56 1930.52 L1021.49 1932.28 L1033.42 1931.88 L1045.36 1932.53 L1057.29 1933.38 L1069.22 1934.33 L1081.15 1934.04 L1093.08 1934.83 L1105.02 1935.42 L1116.95 1933.37 L1128.88 1930.88 L1140.81 1932.84" fill="none" stroke="#ffa500" stroke-width="1.2" clip-path="url(#c5)" stroke-linejoin="round" stroke-linecap="square" />
<g stroke-width="1" fill="none"><line x1="55.5" y1="1740.5" x2="55.5" y2="1971.5" stroke="#909090" stroke-width=".85"/><line x1="1474.5" y1="1740.5" x2="1474.5" y2="1971.5" stroke="#c6c6c6"/><line x1="55" y1="1740.5" x2="1475" y2="1740.5" stroke="#aaa"/><line x1="55" y1="1971.5" x2="1475" y2="1971.5" stroke="#666"/></g>
<g class="tick xt"><line x1="55.5" y1="1972" x2="55.5" y2="1974.5"/><line x1="293.5" y1="1972" x2="293.5" y2="1974.5"/><line x1="532.5" y1="1972" x2="532.5" y2="1974.5"/><line x1="770.5" y1="1972" x2="770.5" y2="1974.5"/><line x1="1009.5" y1="1972" x2="1009.5" y2="1974.5"/><line x1="1248.5" y1="1972" x2="1248.5" y2="1974.5"/></g>
<g class="tick"><line x1="1475" y1="1971.5" x2="1477.5" y2="1971.5"/><line x1="1475" y1="1893.5" x2="1477.5" y2="1893.5"/><line x1="1475" y1="1816.5" x2="1477.5" y2="1816.5"/><line x1="1475" y1="1740.5" x2="1477.5" y2="1740.5"/></g>
<g class="tl"><text x="1479.2" y="1979" textLength="12.75" lengthAdjust="spacingAndGlyphs">0</text><text x="1479.2" y="1901.7" textLength="57.4" lengthAdjust="spacingAndGlyphs">1,000</text><text x="1479.2" y="1824.4" textLength="57.4" lengthAdjust="spacingAndGlyphs">2,000</text><text x="1479.2" y="1747.1" textLength="57.4" lengthAdjust="spacingAndGlyphs">3,000</text></g>
<text font-size="19.9" transform="translate(50.8 1858.7) rotate(-90)" text-anchor="middle" >出来高</text>
<rect x="1172.5" y="1749.8" width="292.8" height="33.8" rx="4" ry="4" fill="#fff" fill-opacity="0.8" stroke="#e4e4e4" stroke-width="1"/>
<line x1="1179.4" y1="1765.7" x2="1220" y2="1765.7" stroke="#ffa500" stroke-width="1"/>
<text x="1237" y="1773.3" font-size="20.6" textLength="65.2" lengthAdjust="spacingAndGlyphs">20SMA</text>
<rect x="1342.1" y="1758.1" width="40" height="13.8" fill="#e57373"/>
<text class="lg" x="1398.6" y="1773.2" >出来高</text>
<text class="xl" transform="translate(12.68 2041.87) rotate(-30)" textLength="105.25" lengthAdjust="spacingAndGlyphs">2021/6/23</text>
<text class="xl" transform="translate(251.2 2041.87) rotate(-30)" textLength="105.25" lengthAdjust="spacingAndGlyphs">2021/7/13</text>
<text class="xl" transform="translate(495.24 2035.49) rotate(-30)" textLength="92.5" lengthAdjust="spacingAndGlyphs">2021/8/2</text>
<text class="xl" transform="translate(728.24 2041.87) rotate(-30)" textLength="105.25" lengthAdjust="spacingAndGlyphs">2021/8/22</text>
<text class="xl" transform="translate(966.76 2041.87) rotate(-30)" textLength="105.25" lengthAdjust="spacingAndGlyphs">2021/9/11</text>
<text class="xl" transform="translate(1205.28 2041.87) rotate(-30)" textLength="105.25" lengthAdjust="spacingAndGlyphs">2021/10/1</text>
</svg></body></html>
